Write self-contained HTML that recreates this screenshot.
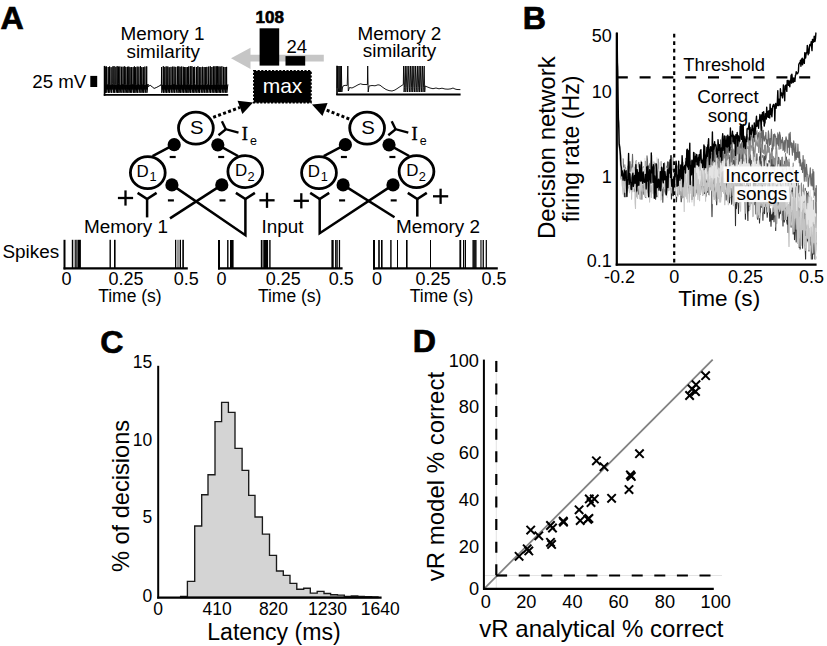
<!DOCTYPE html>
<html><head><meta charset="utf-8"><style>
html,body{margin:0;padding:0;background:#fff;}
svg{display:block;font-family:"Liberation Sans", sans-serif;}
</style></head><body>
<svg width="827" height="646" viewBox="0 0 827 646">
<rect width="827" height="646" fill="#fff"/>
<text x="0.6" y="28.6" font-size="32.2" text-anchor="start" font-weight="bold" fill="#000" stroke="#000" stroke-width="0.7">A</text>
<text x="522.7" y="28.6" font-size="32.2" text-anchor="start" font-weight="bold" fill="#000" stroke="#000" stroke-width="0.7">B</text>
<text x="100.2" y="353.3" font-size="32.2" text-anchor="start" font-weight="bold" fill="#000" stroke="#000" stroke-width="0.7">C</text>
<text x="412.7" y="351.7" font-size="32.2" text-anchor="start" font-weight="bold" fill="#000" stroke="#000" stroke-width="0.7">D</text>
<text x="162.6" y="39.6" font-size="18.9" text-anchor="middle" font-weight="normal" fill="#000" >Memory 1</text>
<text x="163.2" y="57.5" font-size="18.9" text-anchor="middle" font-weight="normal" fill="#000" >similarity</text>
<text x="399.4" y="39.5" font-size="18.9" text-anchor="middle" font-weight="normal" fill="#000" >Memory 2</text>
<text x="399.5" y="57.3" font-size="18.9" text-anchor="middle" font-weight="normal" fill="#000" >similarity</text>
<text x="32.3" y="87.5" font-size="18.7" text-anchor="start" font-weight="normal" fill="#000" >25 mV</text>
<rect x="90.3" y="75.9" width="6.9" height="11.1" fill="#000"/>
<rect x="105" y="84.8" width="42.6" height="4.8" fill="#111"/><rect x="161.4" y="84.8" width="66" height="4.8" fill="#111"/>
<polyline points="105.0,85.3 105.2,66.8 105.5,92.8 106.5,86.3 106.3,85.2 106.5,66.5 106.8,92.8 107.9,84.0 108.0,84.4 108.2,67.0 108.5,92.8 109.6,84.9 109.4,84.4 109.6,66.5 109.8,92.8 110.9,85.5 110.9,85.1 111.1,67.2 111.4,92.8 112.5,85.9 112.7,83.8 112.9,66.4 113.2,92.8 114.3,85.8 113.9,84.5 114.1,66.2 114.4,92.8 115.5,85.4 115.7,84.5 115.9,66.8 116.1,92.8 117.2,85.5 117.0,83.9 117.2,66.2 117.5,92.8 118.6,86.1 118.4,83.5 118.6,66.6 118.8,92.8 119.9,86.5 119.7,85.3 119.9,66.5 120.1,92.8 121.2,85.5 121.4,85.0 121.6,66.8 121.8,92.8 122.9,84.3 122.9,85.2 123.1,66.7 123.3,92.8 124.4,85.1 124.5,84.3 124.7,66.3 124.9,92.8 126.0,85.0 125.7,84.3 125.9,67.0 126.2,92.8 127.3,86.9 127.3,84.8 127.5,66.8 127.7,92.8 128.8,86.0 128.6,84.0 128.8,66.6 129.0,92.8 130.1,85.2 129.8,83.9 130.0,67.2 130.3,92.8 131.4,86.0 131.2,84.8 131.4,67.1 131.7,92.8 132.8,84.4 132.9,85.3 133.1,67.1 133.4,92.8 134.5,85.7 134.2,85.4 134.4,66.4 134.7,92.8 135.8,85.7 135.5,84.8 135.7,67.1 136.0,92.8 137.1,85.7 137.0,84.0 137.2,66.6 137.4,92.8 138.5,84.1 138.7,84.6 138.9,66.7 139.1,92.8 140.2,85.0 140.3,84.2 140.5,66.2 140.8,92.8 141.9,84.1 141.6,84.8 141.8,67.2 142.1,92.8 143.2,85.3 143.1,84.2 143.3,67.1 143.6,92.8 144.7,85.8 144.7,84.5 144.9,66.6 145.2,92.8 146.3,86.3 146.5,85.4 146.7,66.4 146.9,92.8 148.0,84.0 148.0,86.6 150.2,85.3 152.2,86.8 154.1,88.4 156.2,87.6 158.1,86.6 161.0,85.0 161.4,83.8 161.6,67.0 161.8,92.8 163.0,85.3 163.1,84.8 163.3,66.2 163.5,92.8 164.6,86.4 164.6,84.0 164.8,66.9 165.0,92.8 166.1,84.6 166.0,84.2 166.2,66.4 166.5,92.8 167.6,86.8 167.6,84.0 167.8,66.5 168.0,92.8 169.1,86.9 169.0,84.5 169.2,67.2 169.5,92.8 170.6,85.6 170.8,84.7 171.0,66.9 171.2,92.8 172.3,85.3 172.5,85.3 172.7,66.6 172.9,92.8 174.0,84.2 173.9,85.4 174.1,66.7 174.4,92.8 175.5,84.8 175.6,84.9 175.8,66.9 176.1,92.8 177.2,85.9 177.4,84.3 177.6,66.5 177.9,92.8 179.0,84.6 178.6,85.3 178.8,66.4 179.1,92.8 180.2,86.5 179.9,84.5 180.1,66.8 180.4,92.8 181.5,85.8 181.5,85.4 181.7,66.5 182.0,92.8 183.1,85.4 183.1,83.9 183.3,66.8 183.5,92.8 184.6,84.2 184.5,85.1 184.7,67.0 185.0,92.8 186.1,86.2 185.8,85.1 186.0,67.1 186.3,92.8 187.4,86.6 187.3,83.6 187.5,67.1 187.8,92.8 188.9,84.1 188.5,84.0 188.7,66.5 189.0,92.8 190.1,84.6 190.1,84.7 190.3,66.2 190.5,92.8 191.6,84.5 191.7,84.1 191.9,66.2 192.1,92.8 193.2,86.8 193.2,84.8 193.4,67.0 193.6,92.8 194.7,85.8 194.5,83.6 194.7,66.8 195.0,92.8 196.1,86.4 196.3,83.6 196.5,67.1 196.7,92.8 197.8,85.0 197.7,84.8 197.9,66.3 198.1,92.8 199.2,86.4 199.1,85.1 199.3,67.1 199.5,92.8 200.6,84.4 200.7,83.9 200.9,67.1 201.2,92.8 202.3,85.7 202.3,83.7 202.5,66.8 202.8,92.8 203.9,86.0 203.9,85.1 204.1,67.0 204.3,92.8 205.4,85.0 205.5,85.3 205.7,67.1 206.0,92.8 207.1,84.5 206.7,83.9 206.9,66.9 207.2,92.8 208.3,85.7 208.5,84.0 208.7,66.6 209.0,92.8 210.1,85.4 210.1,84.3 210.3,66.3 210.5,92.8 211.6,84.4 211.7,84.3 211.9,67.0 212.1,92.8 213.2,85.1 213.2,84.0 213.4,66.4 213.7,92.8 214.8,85.0 214.7,85.0 214.9,66.3 215.1,92.8 216.2,85.7 216.1,85.0 216.3,66.3 216.5,92.8 217.6,84.4 217.4,83.7 217.6,66.3 217.8,92.8 218.9,86.7 218.7,85.2 218.9,66.5 219.2,92.8 220.3,85.9 220.0,85.3 220.2,66.6 220.5,92.8 221.6,85.1 221.7,85.0 221.9,66.3 222.1,92.8 223.2,86.3 223.4,84.2 223.6,66.9 223.8,92.8 224.9,84.2 224.9,83.9 225.1,67.0 225.3,92.8 226.4,84.8 226.4,85.3 226.6,66.9 226.8,92.8 227.9,84.4" fill="none" stroke="#000" stroke-width="1.0" />
<line x1="104.60" y1="65.90" x2="104.60" y2="95.80" stroke="#000" stroke-width="1.7" />
<line x1="103.80" y1="94.90" x2="228.20" y2="94.90" stroke="#000" stroke-width="1.8" />
<polyline points="337.2,88.0 337.8,66.0 338.2,92.0 338.8,88.0 339.0,66.0 339.4,92.0 340.0,88.0 340.2,66.0 340.6,92.0 341.2,88.0 341.4,66.0 341.8,92.0 342.4,88.0 343.0,86.0 345.0,85.3 347.2,85.5 347.8,66.0 348.3,91.0 349.5,87.5 352.0,88.0 355.0,86.5 358.0,84.8 360.5,83.8 363.0,84.5 366.0,84.5 367.4,84.6 367.7,66.0 368.2,92.0 369.0,86.0 372.0,85.5 375.0,85.8 378.0,84.8 380.0,85.2 383.0,87.5 386.0,89.5 389.0,90.6 392.0,91.0 395.0,90.0 398.0,88.0 401.0,86.0 403.3,84.5 403.6,66.0 404.1,92.0 404.5,87.5 405.3,66.0 405.8,92.0 406.2,87.5 407.0,66.0 407.5,92.0 407.9,87.5 408.8,66.0 409.3,92.0 409.7,87.5 410.5,66.0 411.0,92.0 411.4,87.5 412.2,66.0 412.7,92.0 413.1,87.5 413.9,66.0 414.4,92.0 414.8,87.5 415.6,66.0 416.1,92.0 416.5,87.5 417.4,66.0 417.9,92.0 418.3,87.5 419.1,66.0 419.6,92.0 420.0,87.5 420.8,66.0 421.3,92.0 421.7,87.5 422.5,66.0 423.0,92.0 423.4,87.5 424.2,66.0 424.7,92.0 425.1,87.5 425.0,86.0 427.0,86.8 430.0,88.0 433.0,88.7 436.0,88.0 439.0,88.8 442.0,88.2 445.0,89.0 448.0,89.2 451.0,88.8 453.0,88.0 455.0,89.0 457.0,89.5 460.4,89.6" fill="none" stroke="#000" stroke-width="0.9" />
<line x1="337.00" y1="65.80" x2="337.00" y2="95.00" stroke="#000" stroke-width="1.6" />
<line x1="336.30" y1="94.50" x2="460.60" y2="94.50" stroke="#000" stroke-width="1.8" />
<path d="M231,58.2 L250.5,47.7 L250.5,54.8 L323.8,54.8 L323.8,61.6 L250.5,61.6 L250.5,69 Z" fill="#c6c6c6"/>
<rect x="259.6" y="28.3" width="19.6" height="37.3" fill="#000"/>
<rect x="285.5" y="56.1" width="19.7" height="9.5" fill="#000"/>
<text x="269.7" y="22.6" font-size="17" text-anchor="middle" font-weight="bold" fill="#000" stroke="#000" stroke-width="0.6">108</text>
<text x="296.8" y="52.5" font-size="18.5" text-anchor="middle" font-weight="normal" fill="#000" >24</text>
<rect x="254" y="71" width="56.8" height="31.6" fill="#000" stroke="#000" stroke-width="2" stroke-dasharray="2.2 1.4"/>
<text x="282.5" y="92.5" font-size="21" text-anchor="middle" font-weight="normal" fill="#fff" >max</text>
<line x1="213.20" y1="117.30" x2="239.96" y2="107.44" stroke="#000" stroke-width="3" stroke-dasharray="3 2.3"/>
<path d="M253.10,102.60 L242.38,114.01 L237.54,100.87 Z" fill="#000"/>
<line x1="174.20" y1="144.70" x2="152.50" y2="156.20" stroke="#000" stroke-width="2.5" />
<line x1="217.80" y1="144.80" x2="238.00" y2="156.00" stroke="#000" stroke-width="2.5" />
<polyline points="171.9,184.9 245.4,235.2 245.4,198.5" fill="none" stroke="#000" stroke-width="2.5" stroke-linejoin="miter" stroke-miterlimit="10"/>
<line x1="221.80" y1="184.90" x2="170.00" y2="218.40" stroke="#000" stroke-width="2.5" />
<line x1="147.10" y1="217.40" x2="147.10" y2="198.50" stroke="#000" stroke-width="2.5" />
<polyline points="137.6,192.8 147.1,199.0 156.6,192.8" fill="none" stroke="#000" stroke-width="2.6" stroke-linejoin="miter"/>
<polyline points="235.9,192.8 245.4,199.0 254.9,192.8" fill="none" stroke="#000" stroke-width="2.6" stroke-linejoin="miter"/>
<ellipse cx="195.90" cy="128.10" rx="17.4" ry="16.0" fill="#fff" stroke="#000" stroke-width="2.8"/>
<ellipse cx="147.80" cy="172.70" rx="17.4" ry="16.0" fill="#fff" stroke="#000" stroke-width="2.8"/>
<ellipse cx="245.30" cy="171.60" rx="17.4" ry="16.0" fill="#fff" stroke="#000" stroke-width="2.8"/>
<circle cx="174.20" cy="144.70" r="6.6" fill="#000"/>
<circle cx="217.80" cy="144.80" r="6.6" fill="#000"/>
<circle cx="171.90" cy="184.90" r="6.6" fill="#000"/>
<circle cx="221.80" cy="184.90" r="6.6" fill="#000"/>
<line x1="169.70" y1="157.00" x2="175.70" y2="157.00" stroke="#000" stroke-width="2.2" />
<line x1="218.20" y1="157.00" x2="224.20" y2="157.00" stroke="#000" stroke-width="2.2" />
<line x1="167.90" y1="200.40" x2="173.90" y2="200.40" stroke="#000" stroke-width="2.2" />
<line x1="219.50" y1="200.40" x2="225.50" y2="200.40" stroke="#000" stroke-width="2.2" />
<line x1="117.90" y1="198.00" x2="133.10" y2="198.00" stroke="#000" stroke-width="2.3" />
<line x1="125.50" y1="190.40" x2="125.50" y2="205.60" stroke="#000" stroke-width="2.3" />
<line x1="259.40" y1="200.30" x2="274.60" y2="200.30" stroke="#000" stroke-width="2.3" />
<line x1="267.00" y1="192.70" x2="267.00" y2="207.90" stroke="#000" stroke-width="2.3" />
<polyline points="218.5,135.2 225.8,129.2 238.5,132.6" fill="none" stroke="#000" stroke-width="2.4" />
<line x1="225.80" y1="129.20" x2="221.90" y2="121.30" stroke="#000" stroke-width="2.4" />
<text x="241.80" y="140.1" font-size="18.5" font-family="Liberation Serif, serif" stroke="#000" stroke-width="0.4">I</text>
<text x="250.00" y="144.5" font-size="12.5" text-anchor="start" font-weight="normal" fill="#000" >e</text>
<text x="196.80" y="134" font-size="17.5" text-anchor="middle" font-weight="normal" fill="#000" textLength="13.6" lengthAdjust="spacingAndGlyphs">S</text>
<text x="136.60" y="176.9" font-size="16.9" text-anchor="start" font-weight="normal" fill="#000" >D</text>
<text x="149.60" y="180.7" font-size="12.8" text-anchor="start" font-weight="normal" fill="#000" >1</text>
<text x="235.10" y="176.1" font-size="16.9" text-anchor="start" font-weight="normal" fill="#000" >D</text>
<text x="247.60" y="180.5" font-size="12.8" text-anchor="start" font-weight="normal" fill="#000" >2</text>
<line x1="349.20" y1="119.00" x2="325.03" y2="109.51" stroke="#000" stroke-width="3" stroke-dasharray="3 2.3"/>
<path d="M312.00,104.40 L327.59,103.00 L322.47,116.03 Z" fill="#000"/>
<line x1="345.40" y1="144.70" x2="323.70" y2="156.20" stroke="#000" stroke-width="2.5" />
<line x1="389.00" y1="144.80" x2="409.20" y2="156.00" stroke="#000" stroke-width="2.5" />
<polyline points="393.0,184.9 319.7,233.2 319.7,198.5" fill="none" stroke="#000" stroke-width="2.5" stroke-linejoin="miter" stroke-miterlimit="10"/>
<line x1="343.10" y1="184.90" x2="394.50" y2="217.30" stroke="#000" stroke-width="2.5" />
<line x1="417.30" y1="216.60" x2="417.30" y2="198.50" stroke="#000" stroke-width="2.5" />
<polyline points="310.2,192.8 319.7,199.0 329.2,192.8" fill="none" stroke="#000" stroke-width="2.6" stroke-linejoin="miter"/>
<polyline points="407.8,192.8 417.3,199.0 426.8,192.8" fill="none" stroke="#000" stroke-width="2.6" stroke-linejoin="miter"/>
<ellipse cx="367.10" cy="128.10" rx="17.4" ry="16.0" fill="#fff" stroke="#000" stroke-width="2.8"/>
<ellipse cx="319.00" cy="172.70" rx="17.4" ry="16.0" fill="#fff" stroke="#000" stroke-width="2.8"/>
<ellipse cx="416.50" cy="171.60" rx="17.4" ry="16.0" fill="#fff" stroke="#000" stroke-width="2.8"/>
<circle cx="345.40" cy="144.70" r="6.6" fill="#000"/>
<circle cx="389.00" cy="144.80" r="6.6" fill="#000"/>
<circle cx="343.10" cy="184.90" r="6.6" fill="#000"/>
<circle cx="393.00" cy="184.90" r="6.6" fill="#000"/>
<line x1="340.90" y1="157.00" x2="346.90" y2="157.00" stroke="#000" stroke-width="2.2" />
<line x1="389.40" y1="157.00" x2="395.40" y2="157.00" stroke="#000" stroke-width="2.2" />
<line x1="339.10" y1="200.40" x2="345.10" y2="200.40" stroke="#000" stroke-width="2.2" />
<line x1="390.70" y1="200.40" x2="396.70" y2="200.40" stroke="#000" stroke-width="2.2" />
<line x1="293.70" y1="200.80" x2="308.90" y2="200.80" stroke="#000" stroke-width="2.3" />
<line x1="301.30" y1="193.20" x2="301.30" y2="208.40" stroke="#000" stroke-width="2.3" />
<line x1="433.00" y1="196.30" x2="448.20" y2="196.30" stroke="#000" stroke-width="2.3" />
<line x1="440.60" y1="188.70" x2="440.60" y2="203.90" stroke="#000" stroke-width="2.3" />
<polyline points="388.3,135.2 395.6,129.2 408.3,132.6" fill="none" stroke="#000" stroke-width="2.4" />
<line x1="395.60" y1="129.20" x2="391.70" y2="121.30" stroke="#000" stroke-width="2.4" />
<text x="411.60" y="140.1" font-size="18.5" font-family="Liberation Serif, serif" stroke="#000" stroke-width="0.4">I</text>
<text x="419.80" y="144.5" font-size="12.5" text-anchor="start" font-weight="normal" fill="#000" >e</text>
<text x="368.00" y="134" font-size="17.5" text-anchor="middle" font-weight="normal" fill="#000" textLength="13.6" lengthAdjust="spacingAndGlyphs">S</text>
<text x="307.80" y="176.9" font-size="16.9" text-anchor="start" font-weight="normal" fill="#000" >D</text>
<text x="320.80" y="180.7" font-size="12.8" text-anchor="start" font-weight="normal" fill="#000" >1</text>
<text x="406.30" y="176.1" font-size="16.9" text-anchor="start" font-weight="normal" fill="#000" >D</text>
<text x="418.80" y="180.5" font-size="12.8" text-anchor="start" font-weight="normal" fill="#000" >2</text>
<text x="126" y="233.2" font-size="18.9" text-anchor="middle" font-weight="normal" fill="#000" >Memory 1</text>
<text x="282.5" y="233" font-size="18.9" text-anchor="middle" font-weight="normal" fill="#000" >Input</text>
<text x="438" y="233" font-size="18.9" text-anchor="middle" font-weight="normal" fill="#000" >Memory 2</text>
<text x="2.4" y="257.8" font-size="18.9" text-anchor="start" font-weight="normal" fill="#000" >Spikes</text>
<rect x="71.8" y="239.8" width="1.3" height="28.599999999999966" fill="#000"/>
<rect x="73.2" y="239.8" width="2.0" height="28.599999999999966" fill="#aaa"/>
<rect x="75.2" y="239.8" width="1.5" height="28.599999999999966" fill="#000"/>
<rect x="76.7" y="239.8" width="1.1" height="28.599999999999966" fill="#555"/>
<rect x="77.8" y="239.8" width="3.1" height="28.599999999999966" fill="#000"/>
<rect x="109.5" y="239.8" width="1.4" height="28.599999999999966" fill="#000"/>
<rect x="114.0" y="239.8" width="1.6" height="28.599999999999966" fill="#000"/>
<rect x="175" y="239.8" width="1.2" height="28.599999999999966" fill="#000"/>
<rect x="176.5" y="239.8" width="2.8" height="28.599999999999966" fill="#999"/>
<rect x="179.7" y="239.8" width="1.3" height="28.599999999999966" fill="#000"/>
<rect x="182.3" y="239.8" width="1.6" height="28.599999999999966" fill="#000"/>
<line x1="64.50" y1="239.80" x2="64.50" y2="269.40" stroke="#000" stroke-width="2" />
<line x1="63.50" y1="268.40" x2="187.80" y2="268.40" stroke="#000" stroke-width="2.2" />
<rect x="227.1" y="240" width="1.4" height="28.399999999999977" fill="#000"/>
<rect x="230" y="240" width="3.6" height="28.399999999999977" fill="#000"/>
<rect x="260.8" y="240" width="1.6" height="28.399999999999977" fill="#000"/>
<rect x="262.4" y="240" width="0.9" height="28.399999999999977" fill="#666"/>
<rect x="263.3" y="240" width="4.8" height="28.399999999999977" fill="#000"/>
<rect x="269.2" y="240" width="1.4" height="28.399999999999977" fill="#000"/>
<rect x="331.4" y="240" width="2.3" height="28.399999999999977" fill="#000"/>
<rect x="335.1" y="240" width="1.6" height="28.399999999999977" fill="#000"/>
<rect x="336.7" y="240" width="1.4" height="28.399999999999977" fill="#444"/>
<rect x="338.9" y="240" width="1.2" height="28.399999999999977" fill="#000"/>
<line x1="219.00" y1="240.00" x2="219.00" y2="269.40" stroke="#000" stroke-width="2" />
<line x1="218.00" y1="268.40" x2="342.60" y2="268.40" stroke="#000" stroke-width="2.2" />
<rect x="378.1" y="240" width="0.8" height="28.399999999999977" fill="#000"/>
<rect x="379.1" y="240" width="0.8" height="28.399999999999977" fill="#000"/>
<rect x="381.0" y="240" width="1.6" height="28.399999999999977" fill="#000"/>
<rect x="390.2" y="240" width="1.4" height="28.399999999999977" fill="#000"/>
<rect x="397.0" y="240" width="1.0" height="28.399999999999977" fill="#000"/>
<rect x="406.0" y="240" width="1.6" height="28.399999999999977" fill="#000"/>
<rect x="430.0" y="240" width="1.0" height="28.399999999999977" fill="#000"/>
<rect x="459.4" y="240" width="1.8" height="28.399999999999977" fill="#000"/>
<rect x="463" y="240" width="1.2" height="28.399999999999977" fill="#000"/>
<rect x="464.8" y="240" width="1.2" height="28.399999999999977" fill="#000"/>
<rect x="472.4" y="240" width="4.2" height="28.399999999999977" fill="#1a1a1a"/>
<rect x="480.2" y="240" width="1.5" height="28.399999999999977" fill="#444"/>
<rect x="482.6" y="240" width="1.3" height="28.399999999999977" fill="#000"/>
<rect x="485.7" y="240" width="1.2" height="28.399999999999977" fill="#000"/>
<line x1="374.00" y1="240.00" x2="374.00" y2="269.40" stroke="#000" stroke-width="2" />
<line x1="373.00" y1="268.40" x2="497.80" y2="268.40" stroke="#000" stroke-width="2.2" />
<text x="66.5" y="285" font-size="18" text-anchor="middle" font-weight="normal" fill="#000" >0</text>
<text x="126" y="285" font-size="18" text-anchor="middle" font-weight="normal" fill="#000" >0.25</text>
<text x="186.3" y="285" font-size="18" text-anchor="middle" font-weight="normal" fill="#000" >0.5</text>
<text x="129.9" y="302.4" font-size="17.5" text-anchor="middle" font-weight="normal" fill="#000" >Time (s)</text>
<text x="221.5" y="285" font-size="18" text-anchor="middle" font-weight="normal" fill="#000" >0</text>
<text x="283.3" y="285" font-size="18" text-anchor="middle" font-weight="normal" fill="#000" >0.25</text>
<text x="341.2" y="285" font-size="18" text-anchor="middle" font-weight="normal" fill="#000" >0.5</text>
<text x="289.7" y="302.4" font-size="17.5" text-anchor="middle" font-weight="normal" fill="#000" >Time (s)</text>
<text x="377" y="285" font-size="18" text-anchor="middle" font-weight="normal" fill="#000" >0</text>
<text x="432.9" y="285" font-size="18" text-anchor="middle" font-weight="normal" fill="#000" >0.25</text>
<text x="494.1" y="285" font-size="18" text-anchor="middle" font-weight="normal" fill="#000" >0.5</text>
<text x="441.5" y="302.4" font-size="17.5" text-anchor="middle" font-weight="normal" fill="#000" >Time (s)</text>
<g>
<polyline points="617.2,33.0 617.1,33.0 617.5,65.2 618.0,94.9 618.4,116.8 618.8,134.3 619.2,142.0 619.7,150.9 620.1,154.5 620.5,160.2 620.9,176.5 621.4,178.6 621.8,172.4 622.2,171.8 622.7,168.6 623.1,170.3 623.5,168.0 623.9,174.5 624.4,196.8 624.8,173.6 625.2,167.8 625.6,174.4 626.1,176.5 626.5,170.8 626.9,173.3 627.4,169.5 627.8,179.7 628.2,184.3 628.6,187.7 629.1,180.7 629.5,172.8 629.9,161.5 630.4,181.6 630.8,188.4 631.2,179.7 631.6,181.8 632.1,177.5 632.5,171.0 632.9,166.6 633.3,168.0 633.8,175.6 634.2,182.8 634.6,191.2 635.1,171.7 635.5,187.1 635.9,173.7 636.3,182.5 636.8,180.1 637.2,197.1 637.6,178.2 638.0,184.4 638.5,191.3 638.9,189.2 639.3,175.1 639.8,186.1 640.2,165.7 640.6,179.1 641.0,174.6 641.5,172.5 641.9,173.1 642.3,173.8 642.8,178.1 643.2,187.7 643.6,176.3 644.0,194.2 644.5,188.0 644.9,176.9 645.3,161.4 645.7,197.4 646.2,197.3 646.6,183.5 647.0,192.3 647.5,181.1 647.9,183.8 648.3,180.5 648.7,173.2 649.2,165.0 649.6,180.6 650.0,179.6 650.4,184.1 650.9,178.4 651.3,173.9 651.7,162.7 652.2,186.1 652.6,170.4 653.0,179.2 653.4,182.4 653.9,169.3 654.3,191.6 654.7,178.7 655.1,177.6 655.6,199.3 656.0,174.4 656.4,193.6 656.9,177.1 657.3,196.4 657.7,176.2 658.1,174.3 658.6,172.5 659.0,181.2 659.4,178.7 659.9,170.4 660.3,167.6 660.7,170.3 661.1,179.6 661.6,172.3 662.0,186.5 662.4,188.3 662.8,179.4 663.3,178.9 663.7,180.4 664.1,177.9 664.6,189.7 665.0,181.0 665.4,173.2 665.8,190.3 666.3,169.9 666.7,192.9 667.1,181.9 667.5,172.5 668.0,176.6 668.4,184.0 668.8,162.0 669.3,168.1 669.7,177.0 670.1,177.4 670.5,188.1 671.0,171.1 671.4,199.0 671.8,185.9 672.2,182.0 672.7,181.0 673.1,176.1 673.5,191.0 674.0,169.7 674.4,186.9 674.8,168.6 675.2,182.9 675.7,173.4 676.1,187.3 676.5,201.8 677.0,185.0 677.4,170.3 677.8,181.7 678.2,165.8 678.7,174.1 679.1,194.1 679.5,177.5 679.9,184.1 680.4,182.8 680.8,189.5 681.2,201.8 681.7,187.3 682.1,190.9 682.5,176.6 682.9,197.6 683.4,178.5 683.8,175.8 684.2,172.8 684.6,184.7 685.1,180.5 685.5,187.0 685.9,163.8 686.4,179.2 686.8,178.3 687.2,193.7 687.6,193.9 688.1,186.3 688.5,187.6 688.9,183.6 689.3,179.7 689.8,183.5 690.2,185.7 690.6,182.3 691.1,187.3 691.5,172.8 691.9,199.4 692.3,179.8 692.8,183.5 693.2,186.3 693.6,196.2 694.1,171.3 694.5,181.9 694.9,188.6 695.3,176.8 695.8,179.5 696.2,189.9 696.6,181.1 697.0,174.6 697.5,192.4 697.9,192.9 698.3,178.4 698.8,187.9 699.2,188.3 699.6,182.7 700.0,177.1 700.5,193.9 700.9,183.8 701.3,183.8 701.7,185.6 702.2,179.5 702.6,195.3 703.0,187.5 703.5,186.5 703.9,191.7 704.3,193.5 704.7,183.9 705.2,190.5 705.6,197.2 706.0,195.8 706.4,177.8 706.9,174.6 707.3,174.5 707.7,192.3 708.2,189.6 708.6,178.7 709.0,194.6 709.4,182.6 709.9,168.4 710.3,187.7 710.7,179.0 711.2,190.0 711.6,190.1 712.0,216.6 712.4,188.7 712.9,196.4 713.3,190.6 713.7,172.6 714.1,173.7 714.6,195.8 715.0,198.2 715.4,161.4 715.9,179.6 716.3,183.6 716.7,204.8 717.1,190.3 717.6,196.5 718.0,189.4 718.4,197.4 718.8,187.5 719.3,184.6 719.7,168.6 720.1,179.9 720.6,188.0 721.0,195.8 721.4,175.3 721.8,186.8 722.3,187.0 722.7,188.4 723.1,191.5 723.5,179.0 724.0,185.9 724.4,188.9 724.8,182.5 725.3,191.5 725.7,190.8 726.1,199.9 726.5,180.5 727.0,185.7 727.4,183.5 727.8,195.3 728.3,198.8 728.7,196.6 729.1,195.9 729.5,202.8 730.0,183.9 730.4,197.3 730.8,188.2 731.2,194.2 731.7,204.3 732.1,198.4 732.5,184.9 733.0,196.8 733.4,186.3 733.8,184.7 734.2,197.1 734.7,191.6 735.1,186.5 735.5,225.6 735.9,185.0 736.4,208.6 736.8,203.8 737.2,186.1 737.7,187.8 738.1,190.2 738.5,213.5 738.9,194.0 739.4,181.5 739.8,194.8 740.2,189.0 740.6,183.7 741.1,191.3 741.5,191.5 741.9,191.5 742.4,191.8 742.8,182.0 743.2,195.3 743.6,190.1 744.1,197.0 744.5,193.3 744.9,185.8 745.4,219.3 745.8,188.9 746.2,193.5 746.6,191.5 747.1,193.9 747.5,209.8 747.9,220.5 748.3,185.4 748.8,210.7 749.2,194.1 749.6,206.4 750.1,202.9 750.5,192.6 750.9,195.1 751.3,188.1 751.8,203.2 752.2,195.2 752.6,194.2 753.0,198.6 753.5,197.9 753.9,196.7 754.3,204.8 754.8,200.9 755.2,195.4 755.6,197.4 756.0,214.0 756.5,212.5 756.9,196.1 757.3,203.7 757.7,219.2 758.2,205.6 758.6,208.3 759.0,204.3 759.5,222.9 759.9,213.6 760.3,211.8 760.7,204.8 761.2,202.1 761.6,192.9 762.0,207.5 762.5,180.9 762.9,220.3 763.3,204.4 763.7,196.2 764.2,212.3 764.6,213.6 765.0,187.3 765.4,206.0 765.9,206.1 766.3,200.4 766.7,205.4 767.2,217.3 767.6,210.7 768.0,208.4 768.4,197.1 768.9,207.8 769.3,201.8 769.7,221.3 770.1,208.5 770.6,212.3 771.0,226.3 771.4,215.1 771.9,219.4 772.3,214.0 772.7,219.6 773.1,208.3 773.6,206.8 774.0,221.8 774.4,212.9 774.8,203.2 775.3,201.9 775.7,230.4 776.1,204.1 776.6,223.6 777.0,193.5 777.4,195.1 777.8,205.8 778.3,201.4 778.7,208.5 779.1,218.2 779.6,212.7 780.0,212.7 780.4,211.7 780.8,213.7 781.3,200.0 781.7,215.0 782.1,214.8 782.5,206.0 783.0,225.9 783.4,196.8 783.8,203.9 784.3,222.0 784.7,211.9 785.1,201.3 785.5,202.6 786.0,219.6 786.4,210.4 786.8,221.0 787.2,224.3 787.7,209.0 788.1,232.6 788.5,213.3 789.0,214.1 789.4,214.1 789.8,207.5 790.2,208.0 790.7,192.3 791.1,227.1 791.5,209.5 791.9,222.7 792.4,214.1 792.8,216.8 793.2,234.0 793.7,209.9 794.1,205.0 794.5,239.6 794.9,212.0 795.4,227.4 795.8,230.6 796.2,242.0 796.7,207.3 797.1,219.6 797.5,219.4 797.9,208.6 798.4,220.9 798.8,204.7 799.2,247.4 799.6,233.2 800.1,249.0 800.5,242.7 800.9,210.6 801.4,213.9 801.8,222.0 802.2,238.9 802.6,248.2 803.1,209.3 803.5,217.1 803.9,233.7 804.3,222.2 804.8,241.5 805.2,246.5 805.6,259.0 806.1,220.4 806.5,230.5 806.9,236.9 807.3,240.7 807.8,237.1 808.2,241.9 808.6,220.0 809.0,250.9 809.5,227.1 809.9,223.1 810.3,234.1 810.8,255.4 811.2,239.5 811.6,259.0 812.0,259.0 812.5,259.0 812.9,215.1 813.3,251.7 813.8,254.1 814.2,242.4 814.6,244.6 815.0,259.0 815.5,253.6 815.9,242.4 816.3,244.4" fill="none" stroke="#2e2e2e" stroke-width="1.1" stroke-linejoin="round"/>
<polyline points="617.2,33.0 617.1,33.0 617.5,65.6 618.0,95.5 618.4,117.8 618.8,131.9 619.2,140.4 619.7,155.1 620.1,150.0 620.5,151.3 620.9,170.3 621.4,164.2 621.8,175.7 622.2,173.1 622.7,172.6 623.1,180.5 623.5,171.5 623.9,185.5 624.4,172.2 624.8,173.4 625.2,174.8 625.6,175.3 626.1,179.7 626.5,185.8 626.9,188.9 627.4,176.5 627.8,179.4 628.2,166.0 628.6,167.9 629.1,183.4 629.5,176.3 629.9,183.3 630.4,183.1 630.8,171.9 631.2,177.7 631.6,177.4 632.1,181.5 632.5,172.0 632.9,178.4 633.3,172.9 633.8,179.5 634.2,175.6 634.6,167.2 635.1,171.6 635.5,171.3 635.9,173.2 636.3,192.1 636.8,180.2 637.2,170.1 637.6,189.6 638.0,179.5 638.5,194.1 638.9,178.4 639.3,186.5 639.8,189.3 640.2,170.7 640.6,174.0 641.0,170.2 641.5,178.9 641.9,167.2 642.3,186.0 642.8,177.8 643.2,184.7 643.6,166.7 644.0,171.7 644.5,195.0 644.9,183.2 645.3,185.7 645.7,188.3 646.2,195.5 646.6,166.7 647.0,174.6 647.5,181.3 647.9,175.5 648.3,182.6 648.7,186.0 649.2,172.9 649.6,180.5 650.0,168.5 650.4,165.4 650.9,182.2 651.3,173.0 651.7,178.1 652.2,170.4 652.6,183.3 653.0,180.3 653.4,176.7 653.9,173.8 654.3,173.8 654.7,179.5 655.1,181.3 655.6,177.0 656.0,170.8 656.4,178.1 656.9,169.0 657.3,186.5 657.7,180.7 658.1,171.0 658.6,178.2 659.0,172.2 659.4,182.6 659.9,181.9 660.3,183.2 660.7,169.6 661.1,186.2 661.6,176.5 662.0,195.6 662.4,176.1 662.8,202.2 663.3,182.1 663.7,179.9 664.1,172.7 664.6,181.9 665.0,177.5 665.4,178.4 665.8,192.6 666.3,173.8 666.7,166.2 667.1,179.8 667.5,161.9 668.0,184.9 668.4,189.2 668.8,175.5 669.3,175.2 669.7,183.7 670.1,179.5 670.5,184.3 671.0,178.4 671.4,169.3 671.8,186.8 672.2,179.3 672.7,169.7 673.1,180.9 673.5,167.5 674.0,185.8 674.4,184.0 674.8,173.4 675.2,182.1 675.7,169.0 676.1,179.4 676.5,176.4 677.0,185.0 677.4,195.0 677.8,167.8 678.2,181.4 678.7,177.2 679.1,166.8 679.5,165.2 679.9,181.6 680.4,175.7 680.8,171.5 681.2,165.1 681.7,173.0 682.1,175.9 682.5,169.8 682.9,174.6 683.4,176.9 683.8,168.0 684.2,176.7 684.6,182.4 685.1,183.2 685.5,183.1 685.9,177.2 686.4,166.2 686.8,167.1 687.2,161.4 687.6,171.1 688.1,171.1 688.5,168.1 688.9,172.6 689.3,167.2 689.8,168.7 690.2,170.5 690.6,176.6 691.1,162.0 691.5,175.6 691.9,175.3 692.3,175.8 692.8,179.8 693.2,166.1 693.6,158.6 694.1,155.4 694.5,169.7 694.9,168.4 695.3,174.2 695.8,161.9 696.2,167.8 696.6,192.7 697.0,168.7 697.5,180.0 697.9,158.0 698.3,166.1 698.8,165.1 699.2,164.8 699.6,168.2 700.0,172.7 700.5,174.4 700.9,159.5 701.3,164.2 701.7,179.0 702.2,172.5 702.6,179.3 703.0,158.7 703.5,169.7 703.9,167.1 704.3,156.9 704.7,189.5 705.2,164.9 705.6,168.2 706.0,155.0 706.4,155.8 706.9,161.7 707.3,177.2 707.7,166.5 708.2,167.3 708.6,185.4 709.0,178.0 709.4,182.9 709.9,163.4 710.3,168.4 710.7,176.6 711.2,177.4 711.6,185.5 712.0,160.6 712.4,158.8 712.9,174.8 713.3,163.1 713.7,176.3 714.1,156.6 714.6,168.3 715.0,166.4 715.4,160.2 715.9,165.7 716.3,172.4 716.7,162.5 717.1,161.8 717.6,157.2 718.0,161.9 718.4,185.7 718.8,155.5 719.3,163.1 719.7,164.1 720.1,172.9 720.6,155.8 721.0,169.6 721.4,157.3 721.8,166.0 722.3,158.4 722.7,165.4 723.1,156.9 723.5,163.1 724.0,164.7 724.4,159.7 724.8,164.5 725.3,165.3 725.7,154.8 726.1,171.8 726.5,165.7 727.0,161.3 727.4,164.0 727.8,176.0 728.3,158.7 728.7,172.6 729.1,155.4 729.5,181.8 730.0,157.2 730.4,170.6 730.8,166.6 731.2,149.4 731.7,154.7 732.1,169.4 732.5,154.4 733.0,161.9 733.4,164.3 733.8,160.6 734.2,164.2 734.7,174.8 735.1,151.4 735.5,156.6 735.9,156.6 736.4,159.1 736.8,141.3 737.2,168.4 737.7,150.1 738.1,157.3 738.5,164.1 738.9,152.3 739.4,146.9 739.8,162.0 740.2,175.6 740.6,162.3 741.1,152.0 741.5,172.6 741.9,167.2 742.4,162.2 742.8,146.5 743.2,154.0 743.6,158.3 744.1,158.5 744.5,161.3 744.9,163.0 745.4,160.3 745.8,151.8 746.2,168.7 746.6,170.7 747.1,148.3 747.5,168.6 747.9,155.5 748.3,159.0 748.8,169.9 749.2,156.5 749.6,161.4 750.1,164.5 750.5,154.9 750.9,167.6 751.3,164.5 751.8,160.6 752.2,166.4 752.6,161.2 753.0,161.3 753.5,147.1 753.9,150.0 754.3,151.8 754.8,157.7 755.2,162.5 755.6,166.7 756.0,170.2 756.5,166.0 756.9,153.8 757.3,169.0 757.7,165.7 758.2,168.4 758.6,167.4 759.0,179.0 759.5,156.7 759.9,163.9 760.3,156.4 760.7,144.2 761.2,170.5 761.6,173.6 762.0,161.8 762.5,161.3 762.9,155.2 763.3,158.5 763.7,171.0 764.2,167.7 764.6,156.3 765.0,158.8 765.4,154.5 765.9,162.4 766.3,164.4 766.7,179.4 767.2,163.5 767.6,174.2 768.0,164.6 768.4,172.5 768.9,160.5 769.3,163.2 769.7,168.9 770.1,154.1 770.6,169.7 771.0,164.8 771.4,165.6 771.9,148.4 772.3,175.4 772.7,168.7 773.1,158.2 773.6,168.9 774.0,163.9 774.4,172.1 774.8,169.3 775.3,162.9 775.7,172.3 776.1,174.4 776.6,176.2 777.0,166.4 777.4,175.6 777.8,161.0 778.3,177.6 778.7,157.2 779.1,169.4 779.6,164.8 780.0,171.2 780.4,167.6 780.8,160.3 781.3,172.4 781.7,163.1 782.1,169.3 782.5,175.7 783.0,168.1 783.4,172.2 783.8,182.1 784.3,175.5 784.7,161.2 785.1,167.2 785.5,174.7 786.0,183.9 786.4,157.0 786.8,171.5 787.2,168.0 787.7,165.3 788.1,177.5 788.5,180.0 789.0,162.6 789.4,187.5 789.8,173.0 790.2,181.6 790.7,168.0 791.1,179.9 791.5,172.1 791.9,196.6 792.4,192.5 792.8,172.3 793.2,180.7 793.7,174.5 794.1,192.4 794.5,180.9 794.9,203.5 795.4,171.2 795.8,188.8 796.2,177.7 796.7,184.8 797.1,187.2 797.5,189.0 797.9,181.9 798.4,189.8 798.8,203.3 799.2,185.9 799.6,193.7 800.1,202.9 800.5,196.0 800.9,194.7 801.4,184.9 801.8,191.9 802.2,205.7 802.6,197.3 803.1,217.9 803.5,198.6 803.9,208.7 804.3,202.9 804.8,224.4 805.2,188.4 805.6,211.8 806.1,218.5 806.5,191.2 806.9,194.0 807.3,193.6 807.8,193.4 808.2,208.9 808.6,213.8 809.0,196.1 809.5,202.6 809.9,208.6 810.3,227.5 810.8,234.3 811.2,216.5 811.6,226.5 812.0,204.3 812.5,230.3 812.9,206.3 813.3,208.4 813.8,222.6 814.2,218.5 814.6,206.0 815.0,202.9 815.5,231.2 815.9,188.2 816.3,232.9" fill="none" stroke="#474747" stroke-width="1.1" stroke-linejoin="round"/>
<polyline points="617.2,33.0 617.1,33.0 617.5,65.3 618.0,96.3 618.4,117.1 618.8,132.5 619.2,141.2 619.7,145.9 620.1,147.9 620.5,161.8 620.9,163.4 621.4,165.9 621.8,162.3 622.2,174.9 622.7,173.5 623.1,158.9 623.5,169.4 623.9,176.0 624.4,173.2 624.8,174.2 625.2,171.6 625.6,196.7 626.1,174.0 626.5,182.1 626.9,183.4 627.4,182.5 627.8,166.6 628.2,183.0 628.6,173.9 629.1,182.9 629.5,176.5 629.9,188.2 630.4,173.0 630.8,174.8 631.2,182.2 631.6,166.5 632.1,166.0 632.5,154.2 632.9,163.2 633.3,176.5 633.8,180.9 634.2,174.7 634.6,170.4 635.1,185.3 635.5,175.0 635.9,169.9 636.3,178.9 636.8,173.0 637.2,180.0 637.6,177.7 638.0,178.6 638.5,162.8 638.9,172.1 639.3,173.9 639.8,170.1 640.2,181.2 640.6,176.4 641.0,177.4 641.5,172.2 641.9,199.3 642.3,177.8 642.8,171.4 643.2,172.5 643.6,173.9 644.0,167.2 644.5,187.5 644.9,175.0 645.3,187.1 645.7,181.6 646.2,181.0 646.6,175.9 647.0,155.9 647.5,159.9 647.9,181.3 648.3,168.9 648.7,186.9 649.2,178.8 649.6,176.6 650.0,163.3 650.4,191.6 650.9,174.8 651.3,191.5 651.7,179.6 652.2,171.9 652.6,178.6 653.0,167.9 653.4,178.2 653.9,183.0 654.3,185.5 654.7,163.2 655.1,163.2 655.6,165.8 656.0,164.2 656.4,175.2 656.9,181.5 657.3,166.0 657.7,194.7 658.1,159.1 658.6,173.8 659.0,177.9 659.4,168.6 659.9,177.1 660.3,169.7 660.7,178.6 661.1,188.0 661.6,189.5 662.0,177.3 662.4,177.1 662.8,171.4 663.3,179.4 663.7,181.2 664.1,178.1 664.6,162.9 665.0,181.1 665.4,193.9 665.8,173.1 666.3,175.0 666.7,178.5 667.1,174.3 667.5,173.3 668.0,180.7 668.4,174.6 668.8,167.0 669.3,180.0 669.7,172.5 670.1,173.0 670.5,173.8 671.0,172.9 671.4,177.0 671.8,180.0 672.2,171.3 672.7,182.7 673.1,175.9 673.5,178.6 674.0,179.8 674.4,176.2 674.8,178.0 675.2,184.6 675.7,170.3 676.1,195.7 676.5,179.7 677.0,185.8 677.4,173.7 677.8,176.2 678.2,167.8 678.7,175.4 679.1,187.0 679.5,173.2 679.9,184.2 680.4,173.8 680.8,171.9 681.2,164.3 681.7,165.9 682.1,161.8 682.5,163.0 682.9,170.2 683.4,176.7 683.8,169.3 684.2,191.7 684.6,176.4 685.1,186.2 685.5,158.4 685.9,172.0 686.4,183.9 686.8,176.6 687.2,174.1 687.6,161.1 688.1,177.8 688.5,155.0 688.9,176.6 689.3,168.0 689.8,180.3 690.2,177.3 690.6,161.1 691.1,163.1 691.5,166.2 691.9,162.5 692.3,172.7 692.8,162.3 693.2,159.3 693.6,166.7 694.1,163.9 694.5,152.7 694.9,173.2 695.3,153.5 695.8,171.6 696.2,167.1 696.6,166.6 697.0,164.2 697.5,159.8 697.9,155.1 698.3,163.3 698.8,156.8 699.2,162.5 699.6,159.8 700.0,174.6 700.5,178.5 700.9,171.8 701.3,167.4 701.7,160.1 702.2,173.6 702.6,165.4 703.0,163.4 703.5,163.7 703.9,150.7 704.3,153.6 704.7,167.7 705.2,166.8 705.6,172.0 706.0,157.2 706.4,171.3 706.9,158.5 707.3,167.6 707.7,163.3 708.2,151.8 708.6,159.7 709.0,148.0 709.4,147.7 709.9,147.9 710.3,164.3 710.7,157.1 711.2,151.9 711.6,160.3 712.0,153.7 712.4,160.1 712.9,159.6 713.3,159.2 713.7,149.4 714.1,153.6 714.6,158.2 715.0,146.8 715.4,150.1 715.9,151.1 716.3,167.8 716.7,158.1 717.1,150.6 717.6,158.6 718.0,151.0 718.4,149.4 718.8,145.5 719.3,154.6 719.7,161.9 720.1,151.9 720.6,139.7 721.0,150.8 721.4,154.8 721.8,149.7 722.3,150.4 722.7,145.2 723.1,160.2 723.5,156.7 724.0,158.0 724.4,146.9 724.8,144.4 725.3,165.5 725.7,156.4 726.1,158.4 726.5,147.4 727.0,160.1 727.4,146.5 727.8,163.4 728.3,145.0 728.7,146.0 729.1,151.8 729.5,152.8 730.0,147.3 730.4,147.6 730.8,149.6 731.2,146.8 731.7,142.3 732.1,140.2 732.5,154.3 733.0,156.2 733.4,151.4 733.8,157.5 734.2,151.1 734.7,152.5 735.1,152.5 735.5,146.0 735.9,142.3 736.4,135.1 736.8,139.1 737.2,141.1 737.7,147.5 738.1,150.9 738.5,142.8 738.9,137.3 739.4,142.0 739.8,143.3 740.2,144.7 740.6,148.4 741.1,146.6 741.5,142.8 741.9,149.9 742.4,138.9 742.8,135.4 743.2,129.6 743.6,152.1 744.1,150.8 744.5,142.8 744.9,140.9 745.4,145.5 745.8,146.4 746.2,150.1 746.6,147.9 747.1,134.5 747.5,139.3 747.9,137.0 748.3,138.2 748.8,141.8 749.2,145.3 749.6,136.4 750.1,141.4 750.5,144.6 750.9,136.0 751.3,134.1 751.8,136.1 752.2,137.2 752.6,145.6 753.0,140.0 753.5,142.9 753.9,135.0 754.3,133.8 754.8,141.7 755.2,131.6 755.6,134.5 756.0,133.8 756.5,133.6 756.9,130.5 757.3,139.3 757.7,138.4 758.2,135.4 758.6,132.6 759.0,137.8 759.5,133.4 759.9,144.2 760.3,133.6 760.7,146.5 761.2,130.9 761.6,137.5 762.0,126.9 762.5,149.8 762.9,130.8 763.3,130.4 763.7,137.8 764.2,141.1 764.6,140.0 765.0,136.1 765.4,138.9 765.9,132.4 766.3,143.7 766.7,139.4 767.2,141.8 767.6,148.0 768.0,139.1 768.4,130.9 768.9,134.9 769.3,145.7 769.7,142.0 770.1,138.6 770.6,144.5 771.0,136.2 771.4,129.2 771.9,136.5 772.3,150.9 772.7,146.4 773.1,149.1 773.6,134.5 774.0,146.0 774.4,134.1 774.8,134.1 775.3,136.9 775.7,136.2 776.1,149.1 776.6,138.4 777.0,139.2 777.4,144.0 777.8,132.7 778.3,145.6 778.7,134.8 779.1,149.2 779.6,132.0 780.0,134.3 780.4,135.8 780.8,148.7 781.3,140.0 781.7,142.6 782.1,141.0 782.5,137.4 783.0,150.4 783.4,149.8 783.8,142.8 784.3,140.6 784.7,152.0 785.1,150.9 785.5,141.4 786.0,136.7 786.4,138.3 786.8,139.8 787.2,152.9 787.7,140.4 788.1,141.5 788.5,147.2 789.0,133.9 789.4,154.8 789.8,136.0 790.2,132.3 790.7,144.7 791.1,147.5 791.5,142.8 791.9,148.7 792.4,155.3 792.8,143.2 793.2,152.3 793.7,140.9 794.1,144.4 794.5,150.7 794.9,160.6 795.4,150.3 795.8,143.5 796.2,159.4 796.7,152.6 797.1,157.5 797.5,156.0 797.9,144.1 798.4,157.6 798.8,152.4 799.2,162.7 799.6,151.8 800.1,169.1 800.5,159.9 800.9,165.7 801.4,169.7 801.8,166.8 802.2,162.9 802.6,172.4 803.1,155.5 803.5,163.8 803.9,169.1 804.3,181.3 804.8,159.7 805.2,176.5 805.6,167.9 806.1,181.2 806.5,164.2 806.9,170.0 807.3,174.2 807.8,174.7 808.2,186.7 808.6,185.0 809.0,178.7 809.5,175.9 809.9,174.0 810.3,167.9 810.8,183.4 811.2,185.9 811.6,180.9 812.0,173.7 812.5,186.0 812.9,169.2 813.3,189.7 813.8,171.7 814.2,197.4 814.6,192.6 815.0,193.8 815.5,194.7 815.9,201.6 816.3,185.3" fill="none" stroke="#686868" stroke-width="1.1" stroke-linejoin="round"/>
<polyline points="617.2,33.0 617.1,33.0 617.5,65.2 618.0,95.3 618.4,118.5 618.8,132.5 619.2,140.0 619.7,148.9 620.1,154.4 620.5,158.3 620.9,161.4 621.4,177.4 621.8,168.9 622.2,162.6 622.7,172.9 623.1,177.7 623.5,169.7 623.9,176.4 624.4,173.5 624.8,164.9 625.2,172.7 625.6,190.7 626.1,178.7 626.5,182.9 626.9,174.6 627.4,169.9 627.8,169.3 628.2,188.1 628.6,168.7 629.1,168.9 629.5,179.3 629.9,176.8 630.4,168.3 630.8,184.3 631.2,164.6 631.6,190.4 632.1,178.7 632.5,178.4 632.9,170.9 633.3,177.8 633.8,174.9 634.2,183.0 634.6,183.6 635.1,170.9 635.5,164.7 635.9,161.2 636.3,160.6 636.8,180.1 637.2,188.4 637.6,172.7 638.0,175.5 638.5,176.1 638.9,162.2 639.3,169.1 639.8,180.9 640.2,199.1 640.6,168.7 641.0,161.0 641.5,170.5 641.9,184.5 642.3,172.9 642.8,179.5 643.2,171.4 643.6,179.6 644.0,171.4 644.5,178.9 644.9,187.0 645.3,172.2 645.7,183.1 646.2,167.7 646.6,173.1 647.0,190.3 647.5,174.0 647.9,185.9 648.3,182.0 648.7,173.8 649.2,167.7 649.6,165.3 650.0,173.6 650.4,191.7 650.9,171.4 651.3,191.5 651.7,169.5 652.2,179.2 652.6,187.8 653.0,181.2 653.4,180.0 653.9,185.0 654.3,188.0 654.7,184.2 655.1,185.8 655.6,171.5 656.0,174.6 656.4,180.0 656.9,173.9 657.3,165.4 657.7,182.4 658.1,177.0 658.6,183.0 659.0,169.2 659.4,187.8 659.9,174.3 660.3,177.5 660.7,192.7 661.1,161.6 661.6,184.6 662.0,168.4 662.4,174.4 662.8,175.8 663.3,190.7 663.7,175.1 664.1,192.0 664.6,180.7 665.0,189.3 665.4,186.0 665.8,184.4 666.3,168.8 666.7,166.3 667.1,173.3 667.5,174.2 668.0,185.8 668.4,169.8 668.8,170.4 669.3,178.4 669.7,169.2 670.1,181.3 670.5,167.3 671.0,183.8 671.4,176.3 671.8,169.6 672.2,190.8 672.7,180.5 673.1,157.4 673.5,175.2 674.0,171.8 674.4,179.5 674.8,180.8 675.2,178.4 675.7,176.6 676.1,193.2 676.5,175.1 677.0,181.7 677.4,193.3 677.8,176.7 678.2,189.7 678.7,167.8 679.1,178.5 679.5,189.2 679.9,179.7 680.4,166.2 680.8,170.1 681.2,165.9 681.7,172.6 682.1,185.2 682.5,172.4 682.9,170.1 683.4,166.3 683.8,170.9 684.2,181.6 684.6,175.1 685.1,179.7 685.5,184.2 685.9,178.3 686.4,158.8 686.8,171.2 687.2,170.4 687.6,170.5 688.1,174.1 688.5,179.6 688.9,178.5 689.3,166.5 689.8,188.1 690.2,173.3 690.6,171.8 691.1,161.9 691.5,168.8 691.9,161.2 692.3,180.8 692.8,186.6 693.2,169.8 693.6,167.7 694.1,161.2 694.5,176.4 694.9,161.8 695.3,168.2 695.8,183.3 696.2,182.5 696.6,177.4 697.0,162.9 697.5,175.1 697.9,163.4 698.3,175.0 698.8,169.6 699.2,168.3 699.6,163.3 700.0,166.8 700.5,164.2 700.9,168.4 701.3,166.3 701.7,158.5 702.2,173.4 702.6,167.1 703.0,171.2 703.5,151.4 703.9,164.1 704.3,165.1 704.7,162.3 705.2,158.5 705.6,164.1 706.0,155.3 706.4,158.4 706.9,165.2 707.3,157.9 707.7,160.3 708.2,175.4 708.6,153.3 709.0,171.6 709.4,158.2 709.9,167.4 710.3,170.5 710.7,169.6 711.2,155.1 711.6,166.3 712.0,163.1 712.4,166.2 712.9,162.0 713.3,165.7 713.7,163.8 714.1,171.0 714.6,172.0 715.0,164.5 715.4,169.6 715.9,152.1 716.3,165.4 716.7,160.4 717.1,154.9 717.6,159.3 718.0,161.6 718.4,159.3 718.8,178.5 719.3,161.6 719.7,174.5 720.1,165.0 720.6,156.8 721.0,155.8 721.4,150.4 721.8,152.0 722.3,172.9 722.7,158.2 723.1,161.5 723.5,170.7 724.0,157.4 724.4,156.7 724.8,150.9 725.3,161.9 725.7,162.9 726.1,160.3 726.5,156.3 727.0,164.6 727.4,153.2 727.8,161.5 728.3,154.0 728.7,154.2 729.1,167.7 729.5,164.6 730.0,165.0 730.4,165.0 730.8,150.2 731.2,161.8 731.7,172.8 732.1,163.9 732.5,163.9 733.0,156.1 733.4,151.4 733.8,149.1 734.2,152.6 734.7,153.2 735.1,159.2 735.5,167.6 735.9,148.1 736.4,158.3 736.8,158.4 737.2,154.7 737.7,145.3 738.1,161.9 738.5,154.7 738.9,142.7 739.4,149.7 739.8,153.4 740.2,148.0 740.6,161.1 741.1,150.1 741.5,150.2 741.9,154.1 742.4,141.8 742.8,151.5 743.2,152.4 743.6,165.2 744.1,149.1 744.5,153.2 744.9,151.4 745.4,144.9 745.8,157.5 746.2,139.7 746.6,149.0 747.1,154.2 747.5,151.1 747.9,146.4 748.3,159.3 748.8,156.7 749.2,142.4 749.6,139.6 750.1,158.1 750.5,141.6 750.9,146.8 751.3,145.6 751.8,148.1 752.2,150.8 752.6,144.9 753.0,141.9 753.5,139.3 753.9,150.0 754.3,159.8 754.8,154.5 755.2,151.5 755.6,143.4 756.0,139.9 756.5,143.4 756.9,145.4 757.3,146.2 757.7,142.2 758.2,137.2 758.6,152.5 759.0,152.4 759.5,145.8 759.9,131.4 760.3,147.0 760.7,142.9 761.2,151.3 761.6,152.0 762.0,144.6 762.5,152.4 762.9,151.5 763.3,150.0 763.7,153.6 764.2,151.5 764.6,145.2 765.0,154.8 765.4,144.8 765.9,147.1 766.3,158.1 766.7,155.0 767.2,152.3 767.6,147.9 768.0,152.3 768.4,146.4 768.9,152.1 769.3,147.6 769.7,152.7 770.1,158.5 770.6,165.0 771.0,154.5 771.4,152.1 771.9,158.7 772.3,158.4 772.7,156.0 773.1,164.3 773.6,156.7 774.0,159.7 774.4,164.7 774.8,158.3 775.3,173.0 775.7,155.7 776.1,148.2 776.6,147.2 777.0,154.0 777.4,167.8 777.8,164.9 778.3,170.9 778.7,172.1 779.1,158.7 779.6,168.3 780.0,166.0 780.4,171.5 780.8,177.4 781.3,170.8 781.7,157.3 782.1,168.7 782.5,157.1 783.0,167.1 783.4,165.3 783.8,167.0 784.3,164.2 784.7,169.6 785.1,170.0 785.5,153.4 786.0,168.2 786.4,167.6 786.8,165.8 787.2,159.8 787.7,162.2 788.1,183.1 788.5,170.1 789.0,159.0 789.4,170.5 789.8,169.8 790.2,167.3 790.7,177.7 791.1,173.3 791.5,169.9 791.9,189.6 792.4,166.6 792.8,178.8 793.2,163.0 793.7,174.7 794.1,172.1 794.5,188.8 794.9,180.2 795.4,197.3 795.8,192.5 796.2,186.8 796.7,193.8 797.1,199.9 797.5,189.3 797.9,198.8 798.4,198.5 798.8,193.5 799.2,205.3 799.6,212.0 800.1,196.7 800.5,204.1 800.9,199.0 801.4,183.1 801.8,199.2 802.2,193.3 802.6,203.2 803.1,196.5 803.5,184.7 803.9,218.0 804.3,202.0 804.8,199.8 805.2,193.7 805.6,202.2 806.1,210.2 806.5,206.7 806.9,211.1 807.3,221.1 807.8,214.7 808.2,213.6 808.6,191.8 809.0,221.2 809.5,235.6 809.9,230.0 810.3,205.0 810.8,211.2 811.2,241.3 811.6,226.7 812.0,222.6 812.5,207.6 812.9,218.0 813.3,200.3 813.8,220.3 814.2,232.4 814.6,230.1 815.0,222.3 815.5,215.1 815.9,226.7 816.3,240.6" fill="none" stroke="#8c8c8c" stroke-width="1.1" stroke-linejoin="round"/>
<polyline points="617.2,33.0 617.1,33.0 617.5,65.7 618.0,96.0 618.4,117.6 618.8,130.9 619.2,137.4 619.7,150.0 620.1,158.0 620.5,165.2 620.9,179.2 621.4,160.9 621.8,174.6 622.2,172.2 622.7,172.4 623.1,173.2 623.5,172.5 623.9,187.4 624.4,188.0 624.8,180.0 625.2,189.7 625.6,182.7 626.1,173.4 626.5,177.7 626.9,177.1 627.4,174.8 627.8,190.9 628.2,177.6 628.6,185.9 629.1,177.0 629.5,189.8 629.9,191.0 630.4,173.3 630.8,182.6 631.2,184.1 631.6,184.6 632.1,170.0 632.5,181.2 632.9,191.8 633.3,173.5 633.8,173.8 634.2,171.3 634.6,183.9 635.1,183.6 635.5,192.4 635.9,169.7 636.3,182.5 636.8,185.9 637.2,176.3 637.6,181.0 638.0,182.2 638.5,176.6 638.9,179.3 639.3,169.6 639.8,169.0 640.2,182.6 640.6,173.9 641.0,189.7 641.5,185.2 641.9,172.8 642.3,173.1 642.8,174.6 643.2,179.9 643.6,184.0 644.0,179.9 644.5,183.1 644.9,178.5 645.3,184.2 645.7,181.7 646.2,185.3 646.6,197.7 647.0,179.7 647.5,178.0 647.9,189.4 648.3,195.6 648.7,171.6 649.2,197.6 649.6,184.3 650.0,178.9 650.4,169.4 650.9,184.3 651.3,197.4 651.7,166.7 652.2,177.4 652.6,178.3 653.0,173.8 653.4,169.6 653.9,161.8 654.3,181.4 654.7,188.7 655.1,181.8 655.6,188.7 656.0,196.4 656.4,170.3 656.9,180.3 657.3,183.7 657.7,194.9 658.1,183.0 658.6,183.0 659.0,169.1 659.4,183.8 659.9,170.0 660.3,183.1 660.7,180.4 661.1,199.4 661.6,177.9 662.0,177.6 662.4,181.1 662.8,167.3 663.3,185.6 663.7,176.2 664.1,184.4 664.6,178.1 665.0,184.2 665.4,178.0 665.8,187.9 666.3,180.8 666.7,170.3 667.1,180.8 667.5,176.4 668.0,174.0 668.4,181.8 668.8,190.3 669.3,173.6 669.7,188.9 670.1,189.7 670.5,174.6 671.0,188.1 671.4,182.2 671.8,177.3 672.2,176.0 672.7,174.9 673.1,188.6 673.5,191.4 674.0,179.0 674.4,190.4 674.8,179.2 675.2,183.0 675.7,184.8 676.1,177.9 676.5,174.9 677.0,167.3 677.4,182.3 677.8,184.7 678.2,186.3 678.7,178.9 679.1,179.5 679.5,176.0 679.9,164.6 680.4,167.8 680.8,195.6 681.2,167.2 681.7,177.9 682.1,198.1 682.5,178.5 682.9,178.4 683.4,162.6 683.8,188.1 684.2,183.8 684.6,180.4 685.1,173.5 685.5,171.1 685.9,196.8 686.4,189.8 686.8,186.2 687.2,181.2 687.6,184.5 688.1,186.2 688.5,179.9 688.9,183.9 689.3,184.7 689.8,182.8 690.2,193.2 690.6,170.5 691.1,173.9 691.5,173.8 691.9,194.7 692.3,183.8 692.8,169.2 693.2,184.7 693.6,165.5 694.1,177.9 694.5,184.6 694.9,184.8 695.3,195.9 695.8,175.4 696.2,175.4 696.6,180.3 697.0,183.5 697.5,171.8 697.9,193.7 698.3,185.8 698.8,186.0 699.2,176.2 699.6,185.6 700.0,174.0 700.5,187.5 700.9,171.0 701.3,180.0 701.7,181.7 702.2,181.9 702.6,172.5 703.0,181.0 703.5,180.8 703.9,178.9 704.3,182.2 704.7,191.9 705.2,191.6 705.6,188.2 706.0,179.2 706.4,180.1 706.9,161.9 707.3,180.6 707.7,172.5 708.2,179.1 708.6,177.0 709.0,193.2 709.4,194.9 709.9,172.8 710.3,186.6 710.7,168.3 711.2,176.9 711.6,182.7 712.0,188.3 712.4,185.7 712.9,166.2 713.3,168.1 713.7,183.8 714.1,188.3 714.6,183.1 715.0,171.7 715.4,187.1 715.9,201.1 716.3,173.0 716.7,180.6 717.1,188.9 717.6,196.9 718.0,188.7 718.4,197.3 718.8,177.8 719.3,189.2 719.7,171.9 720.1,185.6 720.6,169.2 721.0,183.3 721.4,196.8 721.8,174.8 722.3,185.0 722.7,180.8 723.1,187.6 723.5,189.1 724.0,178.2 724.4,176.0 724.8,204.8 725.3,177.8 725.7,191.9 726.1,188.6 726.5,188.4 727.0,190.9 727.4,185.7 727.8,201.5 728.3,190.0 728.7,188.4 729.1,177.2 729.5,179.0 730.0,179.7 730.4,185.0 730.8,175.2 731.2,176.2 731.7,185.5 732.1,185.7 732.5,182.9 733.0,195.5 733.4,184.7 733.8,182.6 734.2,172.2 734.7,170.1 735.1,203.2 735.5,195.4 735.9,190.8 736.4,199.7 736.8,183.9 737.2,185.5 737.7,177.0 738.1,186.9 738.5,173.7 738.9,175.8 739.4,185.9 739.8,191.7 740.2,173.9 740.6,190.2 741.1,196.0 741.5,182.2 741.9,187.6 742.4,198.7 742.8,177.4 743.2,195.7 743.6,181.5 744.1,185.8 744.5,186.7 744.9,186.5 745.4,189.9 745.8,213.2 746.2,193.6 746.6,186.8 747.1,193.9 747.5,171.6 747.9,181.0 748.3,176.5 748.8,179.5 749.2,205.1 749.6,186.8 750.1,188.1 750.5,199.0 750.9,200.9 751.3,196.8 751.8,203.8 752.2,203.9 752.6,206.4 753.0,194.6 753.5,177.3 753.9,195.6 754.3,183.5 754.8,175.3 755.2,193.2 755.6,191.4 756.0,180.8 756.5,195.7 756.9,211.4 757.3,183.1 757.7,184.3 758.2,175.1 758.6,194.2 759.0,198.6 759.5,197.1 759.9,191.7 760.3,176.7 760.7,194.6 761.2,189.8 761.6,186.0 762.0,178.3 762.5,202.2 762.9,199.1 763.3,202.4 763.7,190.2 764.2,192.2 764.6,179.6 765.0,187.4 765.4,183.0 765.9,206.9 766.3,197.7 766.7,196.6 767.2,201.5 767.6,181.2 768.0,190.2 768.4,195.2 768.9,205.8 769.3,185.1 769.7,194.2 770.1,197.7 770.6,196.5 771.0,205.8 771.4,198.4 771.9,200.0 772.3,202.9 772.7,185.6 773.1,204.8 773.6,199.5 774.0,207.3 774.4,201.7 774.8,199.6 775.3,199.0 775.7,186.8 776.1,185.1 776.6,200.4 777.0,213.4 777.4,181.8 777.8,189.8 778.3,197.1 778.7,197.4 779.1,204.6 779.6,208.1 780.0,206.8 780.4,202.2 780.8,204.6 781.3,185.7 781.7,200.7 782.1,184.2 782.5,202.3 783.0,203.3 783.4,205.7 783.8,188.1 784.3,219.4 784.7,198.3 785.1,205.7 785.5,205.8 786.0,208.2 786.4,203.2 786.8,189.1 787.2,208.0 787.7,205.4 788.1,214.4 788.5,215.1 789.0,246.4 789.4,202.6 789.8,214.5 790.2,209.7 790.7,210.7 791.1,226.1 791.5,199.8 791.9,198.0 792.4,215.0 792.8,233.0 793.2,209.7 793.7,209.2 794.1,231.4 794.5,218.5 794.9,212.6 795.4,208.9 795.8,207.4 796.2,229.2 796.7,217.9 797.1,206.9 797.5,212.7 797.9,202.8 798.4,219.6 798.8,237.6 799.2,210.8 799.6,234.6 800.1,246.6 800.5,220.2 800.9,202.9 801.4,230.2 801.8,209.1 802.2,199.1 802.6,221.5 803.1,228.5 803.5,234.1 803.9,239.9 804.3,235.8 804.8,229.1 805.2,202.8 805.6,230.1 806.1,215.6 806.5,217.0 806.9,224.7 807.3,216.6 807.8,226.6 808.2,209.6 808.6,220.2 809.0,221.1 809.5,235.7 809.9,224.1 810.3,233.2 810.8,223.7 811.2,235.9 811.6,236.3 812.0,233.7 812.5,245.1 812.9,243.2 813.3,232.8 813.8,237.3 814.2,242.7 814.6,229.9 815.0,234.0 815.5,237.0 815.9,237.4 816.3,242.4" fill="none" stroke="#b6b6b6" stroke-width="1.1" stroke-linejoin="round"/>
<polyline points="617.2,33.0 617.1,33.0 617.5,65.1 618.0,95.7 618.4,116.5 618.8,130.3 619.2,138.2 619.7,147.4 620.1,157.2 620.5,157.0 620.9,165.5 621.4,173.2 621.8,167.7 622.2,186.3 622.7,176.9 623.1,186.3 623.5,168.6 623.9,181.8 624.4,170.6 624.8,172.2 625.2,178.4 625.6,174.0 626.1,168.3 626.5,182.6 626.9,192.3 627.4,172.9 627.8,166.3 628.2,172.1 628.6,169.6 629.1,172.2 629.5,192.8 629.9,179.3 630.4,180.9 630.8,174.4 631.2,172.4 631.6,173.2 632.1,168.6 632.5,178.7 632.9,167.3 633.3,191.0 633.8,173.4 634.2,185.8 634.6,188.1 635.1,167.0 635.5,179.7 635.9,175.2 636.3,161.7 636.8,182.1 637.2,164.9 637.6,183.5 638.0,177.4 638.5,183.4 638.9,174.7 639.3,179.1 639.8,181.3 640.2,178.8 640.6,166.7 641.0,161.1 641.5,181.1 641.9,166.8 642.3,184.2 642.8,172.4 643.2,179.5 643.6,175.6 644.0,177.0 644.5,180.7 644.9,196.4 645.3,170.8 645.7,172.5 646.2,166.8 646.6,169.1 647.0,183.1 647.5,181.3 647.9,181.8 648.3,175.2 648.7,194.3 649.2,175.4 649.6,172.6 650.0,183.3 650.4,171.2 650.9,160.9 651.3,174.1 651.7,172.7 652.2,175.6 652.6,190.3 653.0,168.2 653.4,176.2 653.9,172.2 654.3,174.7 654.7,176.5 655.1,178.6 655.6,174.1 656.0,172.5 656.4,170.1 656.9,183.4 657.3,182.0 657.7,182.0 658.1,184.4 658.6,176.8 659.0,177.1 659.4,163.4 659.9,173.3 660.3,189.9 660.7,169.3 661.1,175.1 661.6,176.6 662.0,174.5 662.4,172.1 662.8,170.9 663.3,186.6 663.7,164.1 664.1,181.5 664.6,181.0 665.0,176.5 665.4,175.6 665.8,183.1 666.3,190.5 666.7,170.6 667.1,177.4 667.5,179.4 668.0,176.0 668.4,180.8 668.8,172.6 669.3,190.1 669.7,179.0 670.1,169.4 670.5,180.7 671.0,169.7 671.4,168.9 671.8,171.3 672.2,170.8 672.7,195.7 673.1,172.3 673.5,174.2 674.0,165.2 674.4,173.1 674.8,187.5 675.2,174.3 675.7,172.3 676.1,194.0 676.5,175.0 677.0,175.7 677.4,173.3 677.8,167.8 678.2,174.6 678.7,186.1 679.1,165.1 679.5,179.3 679.9,181.0 680.4,182.5 680.8,190.7 681.2,181.2 681.7,178.7 682.1,175.6 682.5,173.6 682.9,187.8 683.4,179.4 683.8,192.7 684.2,173.0 684.6,164.1 685.1,175.3 685.5,183.1 685.9,176.9 686.4,169.9 686.8,183.0 687.2,156.9 687.6,202.1 688.1,184.0 688.5,178.0 688.9,169.1 689.3,175.0 689.8,173.7 690.2,172.2 690.6,166.5 691.1,177.0 691.5,181.1 691.9,202.0 692.3,171.8 692.8,168.1 693.2,173.3 693.6,178.2 694.1,163.8 694.5,165.2 694.9,195.8 695.3,176.0 695.8,177.2 696.2,189.1 696.6,179.8 697.0,172.4 697.5,173.5 697.9,170.1 698.3,180.6 698.8,162.7 699.2,168.2 699.6,180.7 700.0,175.0 700.5,171.1 700.9,180.9 701.3,163.6 701.7,172.4 702.2,172.4 702.6,172.9 703.0,173.0 703.5,172.8 703.9,171.5 704.3,182.6 704.7,177.6 705.2,176.1 705.6,164.5 706.0,165.8 706.4,176.6 706.9,177.9 707.3,174.7 707.7,175.9 708.2,174.3 708.6,186.4 709.0,176.2 709.4,169.6 709.9,188.3 710.3,181.2 710.7,176.9 711.2,165.4 711.6,181.7 712.0,188.5 712.4,168.0 712.9,179.0 713.3,167.2 713.7,179.1 714.1,171.7 714.6,177.8 715.0,162.4 715.4,176.8 715.9,191.7 716.3,184.1 716.7,169.5 717.1,176.7 717.6,169.5 718.0,181.2 718.4,169.4 718.8,167.8 719.3,173.2 719.7,168.8 720.1,174.3 720.6,185.5 721.0,178.4 721.4,175.8 721.8,172.4 722.3,166.7 722.7,172.1 723.1,177.5 723.5,173.1 724.0,185.4 724.4,169.1 724.8,172.8 725.3,183.3 725.7,171.9 726.1,180.9 726.5,168.6 727.0,166.6 727.4,175.6 727.8,174.9 728.3,185.2 728.7,181.1 729.1,189.2 729.5,169.8 730.0,166.2 730.4,187.9 730.8,178.3 731.2,165.8 731.7,174.7 732.1,182.4 732.5,181.8 733.0,171.7 733.4,166.0 733.8,179.0 734.2,185.8 734.7,166.5 735.1,166.0 735.5,176.0 735.9,177.3 736.4,164.1 736.8,179.2 737.2,169.5 737.7,172.9 738.1,187.8 738.5,172.8 738.9,185.5 739.4,181.7 739.8,182.6 740.2,161.2 740.6,164.3 741.1,183.4 741.5,182.2 741.9,183.6 742.4,169.4 742.8,167.8 743.2,180.4 743.6,189.3 744.1,188.1 744.5,189.2 744.9,170.7 745.4,178.7 745.8,173.1 746.2,169.4 746.6,184.8 747.1,171.9 747.5,162.5 747.9,183.0 748.3,174.8 748.8,163.9 749.2,173.1 749.6,165.8 750.1,188.1 750.5,167.4 750.9,175.3 751.3,178.2 751.8,164.2 752.2,178.1 752.6,167.8 753.0,177.8 753.5,173.4 753.9,181.8 754.3,181.3 754.8,179.2 755.2,178.7 755.6,161.3 756.0,176.4 756.5,198.0 756.9,189.8 757.3,160.7 757.7,170.0 758.2,167.0 758.6,201.6 759.0,178.8 759.5,171.5 759.9,171.5 760.3,187.7 760.7,174.2 761.2,174.3 761.6,174.9 762.0,185.5 762.5,180.0 762.9,184.6 763.3,176.7 763.7,168.7 764.2,193.1 764.6,169.5 765.0,191.2 765.4,189.6 765.9,170.8 766.3,182.6 766.7,184.5 767.2,176.8 767.6,183.5 768.0,181.0 768.4,168.2 768.9,195.1 769.3,193.5 769.7,182.6 770.1,192.6 770.6,191.2 771.0,192.6 771.4,169.5 771.9,174.0 772.3,188.0 772.7,182.9 773.1,178.8 773.6,177.0 774.0,197.4 774.4,186.1 774.8,190.8 775.3,179.6 775.7,187.6 776.1,190.1 776.6,202.8 777.0,197.8 777.4,194.7 777.8,182.8 778.3,195.9 778.7,194.1 779.1,188.8 779.6,193.2 780.0,188.4 780.4,176.6 780.8,196.1 781.3,188.9 781.7,196.7 782.1,189.7 782.5,200.3 783.0,202.8 783.4,187.4 783.8,185.9 784.3,202.5 784.7,204.5 785.1,207.1 785.5,199.4 786.0,172.0 786.4,205.9 786.8,183.1 787.2,208.7 787.7,183.8 788.1,202.2 788.5,183.9 789.0,199.0 789.4,176.7 789.8,187.6 790.2,190.7 790.7,194.8 791.1,211.8 791.5,202.0 791.9,192.4 792.4,209.4 792.8,201.4 793.2,210.3 793.7,196.3 794.1,181.9 794.5,204.3 794.9,197.8 795.4,208.8 795.8,201.9 796.2,216.6 796.7,195.4 797.1,200.5 797.5,181.9 797.9,196.2 798.4,206.6 798.8,197.1 799.2,204.9 799.6,207.8 800.1,197.9 800.5,230.2 800.9,230.9 801.4,210.7 801.8,200.3 802.2,209.1 802.6,197.4 803.1,210.4 803.5,214.2 803.9,203.1 804.3,208.9 804.8,212.4 805.2,193.8 805.6,213.3 806.1,210.0 806.5,212.5 806.9,236.7 807.3,233.6 807.8,233.6 808.2,220.1 808.6,213.4 809.0,205.1 809.5,249.1 809.9,224.9 810.3,199.1 810.8,196.3 811.2,213.5 811.6,197.7 812.0,230.2 812.5,243.0 812.9,226.7 813.3,221.5 813.8,211.2 814.2,216.4 814.6,222.9 815.0,227.5 815.5,259.0 815.9,228.2 816.3,250.1" fill="none" stroke="#d2d2d2" stroke-width="1.1" stroke-linejoin="round"/>
<polyline points="617.2,33.0 617.1,33.0 617.5,65.2 618.0,94.9 618.4,115.3 618.8,132.4 619.2,140.7 619.7,150.3 620.1,153.0 620.5,162.4 620.9,169.0 621.4,158.4 621.8,162.0 622.2,159.6 622.7,171.2 623.1,181.9 623.5,187.3 623.9,167.8 624.4,179.1 624.8,179.3 625.2,169.7 625.6,187.5 626.1,189.5 626.5,185.0 626.9,185.9 627.4,183.3 627.8,175.2 628.2,174.9 628.6,172.9 629.1,177.5 629.5,178.2 629.9,171.8 630.4,174.4 630.8,180.2 631.2,182.2 631.6,182.5 632.1,171.4 632.5,172.6 632.9,185.4 633.3,187.6 633.8,163.2 634.2,183.4 634.6,176.6 635.1,183.0 635.5,173.7 635.9,191.3 636.3,170.5 636.8,186.0 637.2,187.5 637.6,164.4 638.0,176.9 638.5,168.0 638.9,174.2 639.3,188.8 639.8,178.5 640.2,165.1 640.6,190.3 641.0,184.8 641.5,161.7 641.9,175.3 642.3,170.3 642.8,176.2 643.2,168.2 643.6,183.4 644.0,166.7 644.5,186.1 644.9,158.3 645.3,170.4 645.7,177.3 646.2,180.0 646.6,197.1 647.0,169.9 647.5,178.9 647.9,169.7 648.3,173.3 648.7,174.1 649.2,179.6 649.6,176.9 650.0,168.8 650.4,181.9 650.9,176.9 651.3,173.5 651.7,184.8 652.2,155.5 652.6,176.4 653.0,181.0 653.4,194.2 653.9,175.1 654.3,196.7 654.7,187.8 655.1,173.5 655.6,177.2 656.0,187.0 656.4,169.4 656.9,157.6 657.3,171.4 657.7,175.2 658.1,197.4 658.6,172.6 659.0,180.0 659.4,162.7 659.9,186.8 660.3,166.4 660.7,200.8 661.1,188.8 661.6,176.5 662.0,188.3 662.4,178.5 662.8,179.3 663.3,163.3 663.7,174.9 664.1,185.9 664.6,179.2 665.0,172.9 665.4,169.3 665.8,169.6 666.3,174.1 666.7,168.3 667.1,197.5 667.5,169.5 668.0,178.7 668.4,170.2 668.8,173.5 669.3,176.7 669.7,176.1 670.1,176.2 670.5,174.0 671.0,184.8 671.4,174.3 671.8,171.4 672.2,179.6 672.7,177.7 673.1,198.7 673.5,195.2 674.0,175.3 674.4,189.7 674.8,174.8 675.2,187.1 675.7,165.2 676.1,191.0 676.5,196.3 677.0,177.9 677.4,187.6 677.8,168.9 678.2,189.5 678.7,176.7 679.1,184.2 679.5,178.4 679.9,175.6 680.4,176.1 680.8,183.8 681.2,169.7 681.7,175.8 682.1,169.1 682.5,173.0 682.9,172.8 683.4,176.1 683.8,176.7 684.2,176.0 684.6,179.3 685.1,176.4 685.5,184.4 685.9,166.0 686.4,170.3 686.8,180.5 687.2,191.4 687.6,183.5 688.1,166.9 688.5,174.8 688.9,172.4 689.3,172.9 689.8,197.1 690.2,178.6 690.6,181.4 691.1,169.2 691.5,179.8 691.9,176.4 692.3,184.1 692.8,174.1 693.2,179.1 693.6,172.5 694.1,182.9 694.5,177.7 694.9,173.8 695.3,172.6 695.8,173.5 696.2,170.9 696.6,161.7 697.0,174.1 697.5,165.9 697.9,169.7 698.3,187.8 698.8,169.1 699.2,190.3 699.6,189.2 700.0,176.4 700.5,178.9 700.9,177.2 701.3,156.6 701.7,176.7 702.2,165.4 702.6,162.6 703.0,174.2 703.5,183.5 703.9,184.2 704.3,170.9 704.7,179.1 705.2,178.0 705.6,169.5 706.0,169.1 706.4,178.9 706.9,174.3 707.3,176.8 707.7,175.5 708.2,184.0 708.6,177.9 709.0,178.6 709.4,167.9 709.9,169.6 710.3,175.1 710.7,167.6 711.2,174.3 711.6,185.6 712.0,166.7 712.4,166.0 712.9,177.8 713.3,169.2 713.7,164.0 714.1,162.6 714.6,163.6 715.0,177.8 715.4,174.0 715.9,165.8 716.3,185.4 716.7,158.6 717.1,178.0 717.6,170.4 718.0,174.8 718.4,181.5 718.8,176.7 719.3,182.5 719.7,180.7 720.1,181.9 720.6,163.0 721.0,163.0 721.4,166.2 721.8,171.9 722.3,168.9 722.7,160.9 723.1,176.8 723.5,175.2 724.0,161.0 724.4,158.9 724.8,170.3 725.3,189.1 725.7,171.6 726.1,183.2 726.5,171.4 727.0,178.3 727.4,160.8 727.8,172.8 728.3,159.2 728.7,171.7 729.1,187.0 729.5,180.8 730.0,167.8 730.4,178.6 730.8,170.4 731.2,162.8 731.7,175.1 732.1,182.6 732.5,165.3 733.0,183.3 733.4,164.8 733.8,165.2 734.2,167.7 734.7,174.2 735.1,177.4 735.5,173.5 735.9,169.6 736.4,165.9 736.8,176.4 737.2,154.7 737.7,182.1 738.1,177.1 738.5,176.3 738.9,167.5 739.4,162.2 739.8,174.1 740.2,170.9 740.6,175.8 741.1,159.4 741.5,174.1 741.9,169.3 742.4,164.3 742.8,171.8 743.2,184.7 743.6,161.7 744.1,175.4 744.5,177.1 744.9,155.5 745.4,161.1 745.8,171.8 746.2,169.9 746.6,163.7 747.1,174.4 747.5,149.2 747.9,161.3 748.3,170.5 748.8,169.5 749.2,163.8 749.6,167.1 750.1,167.2 750.5,177.9 750.9,174.7 751.3,168.8 751.8,169.9 752.2,172.7 752.6,153.8 753.0,162.3 753.5,173.3 753.9,171.5 754.3,168.3 754.8,157.4 755.2,166.4 755.6,169.3 756.0,168.8 756.5,164.3 756.9,164.6 757.3,184.4 757.7,161.2 758.2,169.4 758.6,160.0 759.0,163.3 759.5,166.2 759.9,173.8 760.3,168.8 760.7,166.5 761.2,177.6 761.6,175.2 762.0,179.1 762.5,158.1 762.9,161.7 763.3,169.4 763.7,167.0 764.2,169.8 764.6,166.6 765.0,177.9 765.4,177.1 765.9,160.7 766.3,169.7 766.7,184.2 767.2,186.6 767.6,169.7 768.0,167.3 768.4,172.6 768.9,162.6 769.3,185.7 769.7,163.8 770.1,172.1 770.6,184.2 771.0,177.7 771.4,187.0 771.9,176.0 772.3,170.9 772.7,169.9 773.1,175.0 773.6,176.7 774.0,176.5 774.4,176.9 774.8,190.9 775.3,182.4 775.7,176.5 776.1,166.7 776.6,164.3 777.0,173.9 777.4,183.6 777.8,177.2 778.3,171.3 778.7,164.6 779.1,184.2 779.6,168.7 780.0,171.8 780.4,178.1 780.8,168.2 781.3,173.3 781.7,175.9 782.1,187.7 782.5,174.4 783.0,175.4 783.4,188.9 783.8,196.6 784.3,170.6 784.7,176.2 785.1,169.1 785.5,181.5 786.0,175.6 786.4,191.8 786.8,201.8 787.2,178.0 787.7,166.9 788.1,168.5 788.5,177.2 789.0,182.1 789.4,183.2 789.8,188.0 790.2,179.3 790.7,189.6 791.1,189.7 791.5,185.5 791.9,186.7 792.4,174.5 792.8,187.2 793.2,184.0 793.7,183.2 794.1,201.1 794.5,188.6 794.9,179.8 795.4,183.8 795.8,187.0 796.2,186.7 796.7,209.9 797.1,217.1 797.5,202.0 797.9,200.1 798.4,197.4 798.8,201.0 799.2,193.8 799.6,193.0 800.1,185.7 800.5,192.9 800.9,203.5 801.4,211.3 801.8,196.6 802.2,202.8 802.6,191.9 803.1,192.9 803.5,201.3 803.9,195.1 804.3,200.5 804.8,196.4 805.2,196.8 805.6,191.0 806.1,211.8 806.5,209.6 806.9,221.1 807.3,224.2 807.8,203.5 808.2,219.4 808.6,208.5 809.0,196.8 809.5,227.4 809.9,214.3 810.3,190.4 810.8,236.2 811.2,232.9 811.6,201.6 812.0,231.7 812.5,201.5 812.9,221.8 813.3,210.0 813.8,212.3 814.2,223.5 814.6,196.4 815.0,214.5 815.5,216.1 815.9,213.7 816.3,232.5" fill="none" stroke="#e4e4e4" stroke-width="1.1" stroke-linejoin="round"/>
<polyline points="617.2,33.0 617.1,33.0 617.5,65.5 618.0,95.8 618.4,117.4 618.8,132.0 619.2,145.3 619.7,150.8 620.1,151.4 620.5,169.4 620.9,166.6 621.4,176.1 621.8,173.8 622.2,179.2 622.7,190.3 623.1,194.2 623.5,175.3 623.9,178.1 624.4,182.5 624.8,192.1 625.2,192.5 625.6,181.5 626.1,195.2 626.5,182.8 626.9,183.8 627.4,170.9 627.8,180.0 628.2,177.6 628.6,183.4 629.1,172.5 629.5,186.4 629.9,179.2 630.4,177.7 630.8,186.2 631.2,174.5 631.6,199.3 632.1,174.0 632.5,188.0 632.9,170.9 633.3,183.4 633.8,175.6 634.2,174.7 634.6,172.9 635.1,203.0 635.5,208.5 635.9,173.9 636.3,161.1 636.8,191.1 637.2,176.6 637.6,198.5 638.0,188.4 638.5,183.9 638.9,177.3 639.3,186.9 639.8,198.4 640.2,196.9 640.6,173.7 641.0,170.6 641.5,177.8 641.9,191.1 642.3,182.9 642.8,183.1 643.2,177.2 643.6,178.2 644.0,191.3 644.5,169.9 644.9,195.9 645.3,197.1 645.7,193.7 646.2,188.9 646.6,174.7 647.0,177.8 647.5,184.2 647.9,189.0 648.3,174.8 648.7,182.6 649.2,174.1 649.6,202.1 650.0,172.0 650.4,183.2 650.9,180.0 651.3,175.3 651.7,182.4 652.2,172.3 652.6,178.5 653.0,193.2 653.4,177.8 653.9,183.1 654.3,193.4 654.7,169.5 655.1,182.7 655.6,181.3 656.0,192.7 656.4,171.1 656.9,180.4 657.3,174.3 657.7,171.4 658.1,178.7 658.6,184.4 659.0,185.6 659.4,186.3 659.9,183.2 660.3,184.1 660.7,189.7 661.1,175.6 661.6,193.8 662.0,180.1 662.4,187.9 662.8,178.0 663.3,172.1 663.7,171.1 664.1,180.4 664.6,188.7 665.0,189.1 665.4,186.5 665.8,178.5 666.3,185.4 666.7,182.6 667.1,180.9 667.5,185.0 668.0,182.6 668.4,190.8 668.8,189.8 669.3,172.3 669.7,179.6 670.1,171.1 670.5,187.5 671.0,168.4 671.4,175.1 671.8,192.9 672.2,176.5 672.7,174.7 673.1,181.9 673.5,176.6 674.0,190.0 674.4,189.0 674.8,177.4 675.2,190.1 675.7,172.6 676.1,179.0 676.5,177.3 677.0,188.7 677.4,181.9 677.8,191.6 678.2,196.3 678.7,177.9 679.1,193.4 679.5,176.6 679.9,183.2 680.4,183.8 680.8,183.6 681.2,174.2 681.7,185.0 682.1,175.6 682.5,175.0 682.9,189.9 683.4,195.4 683.8,174.9 684.2,211.4 684.6,169.4 685.1,195.6 685.5,173.2 685.9,194.8 686.4,183.9 686.8,198.8 687.2,183.0 687.6,174.7 688.1,183.0 688.5,161.6 688.9,173.0 689.3,202.1 689.8,171.9 690.2,190.1 690.6,182.7 691.1,189.8 691.5,181.9 691.9,183.8 692.3,185.5 692.8,186.3 693.2,177.1 693.6,175.8 694.1,205.8 694.5,196.1 694.9,183.5 695.3,166.0 695.8,178.2 696.2,179.8 696.6,173.2 697.0,194.2 697.5,186.2 697.9,199.5 698.3,179.4 698.8,185.6 699.2,193.8 699.6,200.8 700.0,184.5 700.5,194.0 700.9,185.4 701.3,185.8 701.7,170.5 702.2,175.6 702.6,195.4 703.0,189.0 703.5,194.8 703.9,179.4 704.3,170.4 704.7,185.4 705.2,173.9 705.6,201.3 706.0,183.0 706.4,191.9 706.9,182.8 707.3,190.6 707.7,182.1 708.2,171.3 708.6,181.8 709.0,182.9 709.4,191.9 709.9,187.5 710.3,187.3 710.7,186.2 711.2,178.2 711.6,190.6 712.0,182.1 712.4,203.6 712.9,193.2 713.3,184.4 713.7,185.4 714.1,199.5 714.6,199.2 715.0,191.9 715.4,187.9 715.9,191.8 716.3,190.9 716.7,183.8 717.1,190.4 717.6,177.2 718.0,197.9 718.4,198.3 718.8,178.1 719.3,202.1 719.7,185.3 720.1,193.9 720.6,202.3 721.0,198.5 721.4,182.1 721.8,182.9 722.3,191.1 722.7,176.6 723.1,171.2 723.5,193.2 724.0,193.3 724.4,178.2 724.8,186.1 725.3,183.5 725.7,181.9 726.1,188.7 726.5,193.4 727.0,194.8 727.4,188.1 727.8,177.2 728.3,204.8 728.7,196.8 729.1,179.7 729.5,184.1 730.0,192.8 730.4,197.2 730.8,194.2 731.2,182.6 731.7,184.5 732.1,186.1 732.5,177.6 733.0,194.3 733.4,205.8 733.8,203.9 734.2,193.3 734.7,186.1 735.1,198.8 735.5,170.1 735.9,178.3 736.4,191.6 736.8,190.7 737.2,198.5 737.7,182.4 738.1,188.7 738.5,202.5 738.9,185.5 739.4,204.6 739.8,208.0 740.2,206.6 740.6,211.3 741.1,184.9 741.5,192.0 741.9,196.1 742.4,185.8 742.8,191.4 743.2,187.5 743.6,199.5 744.1,200.8 744.5,189.8 744.9,196.2 745.4,197.2 745.8,200.2 746.2,199.9 746.6,177.4 747.1,180.5 747.5,193.2 747.9,188.9 748.3,194.1 748.8,187.2 749.2,196.3 749.6,195.8 750.1,209.4 750.5,182.1 750.9,198.6 751.3,190.3 751.8,188.2 752.2,197.7 752.6,216.6 753.0,198.8 753.5,216.3 753.9,202.6 754.3,184.5 754.8,200.0 755.2,200.3 755.6,191.8 756.0,189.7 756.5,211.6 756.9,217.9 757.3,215.6 757.7,195.6 758.2,198.9 758.6,214.9 759.0,200.0 759.5,217.8 759.9,203.9 760.3,195.1 760.7,189.9 761.2,205.4 761.6,199.4 762.0,202.9 762.5,200.8 762.9,212.1 763.3,208.8 763.7,203.9 764.2,191.8 764.6,206.6 765.0,196.5 765.4,196.0 765.9,203.4 766.3,190.9 766.7,206.4 767.2,192.2 767.6,211.9 768.0,190.8 768.4,209.9 768.9,212.3 769.3,180.2 769.7,203.7 770.1,195.9 770.6,199.0 771.0,199.6 771.4,197.4 771.9,195.6 772.3,198.2 772.7,187.1 773.1,211.5 773.6,195.7 774.0,206.4 774.4,204.7 774.8,215.0 775.3,193.4 775.7,201.2 776.1,227.1 776.6,200.4 777.0,204.1 777.4,207.4 777.8,206.6 778.3,209.3 778.7,204.9 779.1,206.9 779.6,202.6 780.0,209.4 780.4,202.0 780.8,197.6 781.3,206.6 781.7,220.0 782.1,201.7 782.5,210.5 783.0,205.3 783.4,199.5 783.8,210.2 784.3,193.5 784.7,199.3 785.1,209.7 785.5,209.5 786.0,215.3 786.4,219.5 786.8,207.7 787.2,216.2 787.7,205.7 788.1,213.6 788.5,204.2 789.0,209.1 789.4,216.0 789.8,211.1 790.2,206.2 790.7,219.9 791.1,225.0 791.5,224.8 791.9,224.7 792.4,219.5 792.8,215.0 793.2,206.5 793.7,193.4 794.1,212.8 794.5,218.6 794.9,201.8 795.4,198.3 795.8,217.9 796.2,214.6 796.7,211.3 797.1,219.6 797.5,243.5 797.9,197.7 798.4,234.5 798.8,247.2 799.2,220.3 799.6,217.0 800.1,224.4 800.5,228.9 800.9,233.7 801.4,245.2 801.8,218.5 802.2,224.8 802.6,229.6 803.1,226.0 803.5,208.8 803.9,244.3 804.3,219.3 804.8,226.8 805.2,250.4 805.6,236.5 806.1,247.6 806.5,229.0 806.9,237.9 807.3,236.3 807.8,238.7 808.2,226.3 808.6,249.8 809.0,228.5 809.5,244.4 809.9,250.3 810.3,246.3 810.8,259.0 811.2,227.1 811.6,240.7 812.0,235.0 812.5,252.1 812.9,253.2 813.3,226.4 813.8,242.3 814.2,227.8 814.6,240.0 815.0,247.2 815.5,259.0 815.9,259.0 816.3,256.5" fill="none" stroke="#c4c4c4" stroke-width="1.1" stroke-linejoin="round"/>
<polyline points="617.2,33.0 617.1,33.0 617.5,65.2 618.0,94.6 618.4,117.4 618.8,128.8 619.2,144.2 619.7,147.8 620.1,151.3 620.5,155.6 620.9,164.8 621.4,167.8 621.8,175.9 622.2,170.8 622.7,173.7 623.1,180.1 623.5,176.6 623.9,177.5 624.4,169.9 624.8,180.5 625.2,172.2 625.6,177.0 626.1,170.8 626.5,183.9 626.9,196.5 627.4,182.0 627.8,178.4 628.2,168.7 628.6,153.4 629.1,184.4 629.5,181.7 629.9,173.8 630.4,182.3 630.8,182.8 631.2,189.5 631.6,189.4 632.1,177.6 632.5,175.5 632.9,173.1 633.3,186.5 633.8,183.4 634.2,178.4 634.6,175.4 635.1,183.2 635.5,178.2 635.9,164.6 636.3,179.1 636.8,191.1 637.2,169.6 637.6,185.7 638.0,172.5 638.5,177.3 638.9,185.1 639.3,174.6 639.8,164.8 640.2,179.1 640.6,181.1 641.0,179.8 641.5,162.2 641.9,181.0 642.3,180.8 642.8,183.3 643.2,171.9 643.6,179.6 644.0,181.3 644.5,182.3 644.9,180.2 645.3,174.5 645.7,178.2 646.2,188.9 646.6,167.0 647.0,181.1 647.5,177.8 647.9,166.2 648.3,186.1 648.7,196.8 649.2,173.7 649.6,169.7 650.0,179.3 650.4,178.8 650.9,183.0 651.3,153.0 651.7,169.9 652.2,172.8 652.6,167.1 653.0,182.3 653.4,164.7 653.9,167.2 654.3,198.2 654.7,176.0 655.1,183.4 655.6,187.2 656.0,196.7 656.4,164.0 656.9,172.0 657.3,187.5 657.7,185.7 658.1,181.4 658.6,179.3 659.0,190.1 659.4,185.7 659.9,186.2 660.3,171.7 660.7,190.7 661.1,186.2 661.6,167.3 662.0,168.5 662.4,176.8 662.8,180.5 663.3,182.8 663.7,163.7 664.1,175.1 664.6,179.7 665.0,171.7 665.4,176.5 665.8,176.7 666.3,194.9 666.7,189.6 667.1,175.3 667.5,169.8 668.0,187.5 668.4,172.7 668.8,170.1 669.3,168.0 669.7,173.1 670.1,159.9 670.5,177.4 671.0,155.6 671.4,179.4 671.8,186.2 672.2,179.5 672.7,182.7 673.1,195.5 673.5,178.8 674.0,181.5 674.4,184.2 674.8,173.2 675.2,176.9 675.7,166.6 676.1,161.2 676.5,165.3 677.0,186.3 677.4,175.3 677.8,181.5 678.2,185.6 678.7,161.2 679.1,176.9 679.5,169.8 679.9,180.3 680.4,173.7 680.8,165.3 681.2,171.5 681.7,178.6 682.1,155.7 682.5,162.5 682.9,186.8 683.4,180.9 683.8,167.0 684.2,169.4 684.6,165.7 685.1,165.2 685.5,173.0 685.9,161.8 686.4,165.0 686.8,150.2 687.2,149.2 687.6,166.9 688.1,150.5 688.5,169.3 688.9,156.1 689.3,157.3 689.8,143.3 690.2,184.6 690.6,165.1 691.1,170.6 691.5,174.7 691.9,160.2 692.3,161.0 692.8,163.8 693.2,185.9 693.6,152.4 694.1,166.5 694.5,161.7 694.9,167.1 695.3,156.2 695.8,158.0 696.2,161.6 696.6,154.4 697.0,164.6 697.5,164.8 697.9,161.5 698.3,157.6 698.8,166.1 699.2,154.6 699.6,160.2 700.0,156.2 700.5,150.6 700.9,149.7 701.3,162.1 701.7,163.0 702.2,160.1 702.6,167.5 703.0,163.4 703.5,160.8 703.9,145.0 704.3,167.5 704.7,146.5 705.2,157.7 705.6,167.6 706.0,155.2 706.4,158.0 706.9,147.4 707.3,156.4 707.7,146.1 708.2,143.4 708.6,138.8 709.0,154.9 709.4,164.6 709.9,149.6 710.3,158.0 710.7,146.6 711.2,151.3 711.6,147.0 712.0,150.9 712.4,132.0 712.9,160.5 713.3,144.1 713.7,149.6 714.1,148.5 714.6,141.6 715.0,145.7 715.4,145.7 715.9,144.8 716.3,147.8 716.7,154.1 717.1,150.8 717.6,156.9 718.0,139.8 718.4,144.2 718.8,150.4 719.3,148.4 719.7,144.6 720.1,149.6 720.6,156.8 721.0,156.0 721.4,147.9 721.8,160.5 722.3,139.0 722.7,133.8 723.1,150.3 723.5,147.1 724.0,145.8 724.4,135.9 724.8,153.3 725.3,140.6 725.7,145.4 726.1,136.3 726.5,146.8 727.0,143.8 727.4,147.0 727.8,135.1 728.3,141.2 728.7,146.3 729.1,136.6 729.5,150.8 730.0,145.3 730.4,128.0 730.8,143.7 731.2,135.9 731.7,136.0 732.1,135.1 732.5,131.2 733.0,141.8 733.4,135.2 733.8,136.4 734.2,143.6 734.7,136.3 735.1,142.2 735.5,155.4 735.9,134.7 736.4,138.2 736.8,136.2 737.2,132.5 737.7,146.1 738.1,135.4 738.5,136.5 738.9,140.5 739.4,139.2 739.8,141.2 740.2,126.2 740.6,128.2 741.1,124.7 741.5,139.2 741.9,125.5 742.4,133.2 742.8,141.7 743.2,124.5 743.6,147.0 744.1,136.3 744.5,140.9 744.9,144.0 745.4,148.5 745.8,139.1 746.2,136.7 746.6,141.6 747.1,128.6 747.5,128.6 747.9,128.3 748.3,128.9 748.8,125.8 749.2,122.9 749.6,139.8 750.1,127.4 750.5,133.0 750.9,130.5 751.3,134.5 751.8,129.3 752.2,125.2 752.6,130.1 753.0,128.8 753.5,137.1 753.9,130.6 754.3,122.9 754.8,134.3 755.2,130.9 755.6,129.2 756.0,122.0 756.5,116.2 756.9,126.3 757.3,126.0 757.7,122.7 758.2,120.3 758.6,128.2 759.0,120.3 759.5,120.7 759.9,114.5 760.3,116.4 760.7,119.5 761.2,130.3 761.6,115.0 762.0,119.6 762.5,112.4 762.9,115.3 763.3,121.1 763.7,111.7 764.2,126.1 764.6,123.3 765.0,122.9 765.4,113.7 765.9,117.9 766.3,119.0 766.7,107.1 767.2,116.7 767.6,111.5 768.0,115.4 768.4,117.4 768.9,110.6 769.3,114.5 769.7,118.0 770.1,104.1 770.6,114.3 771.0,108.4 771.4,114.1 771.9,116.7 772.3,110.6 772.7,106.4 773.1,105.3 773.6,104.4 774.0,106.7 774.4,106.3 774.8,120.9 775.3,104.3 775.7,103.5 776.1,108.2 776.6,104.1 777.0,105.6 777.4,101.0 777.8,90.6 778.3,105.6 778.7,101.6 779.1,99.3 779.6,104.7 780.0,105.4 780.4,88.7 780.8,94.7 781.3,95.5 781.7,93.0 782.1,95.7 782.5,97.9 783.0,94.1 783.4,84.9 783.8,92.6 784.3,91.9 784.7,100.7 785.1,85.9 785.5,87.6 786.0,84.9 786.4,89.4 786.8,91.4 787.2,80.5 787.7,83.9 788.1,80.5 788.5,85.4 789.0,81.2 789.4,84.3 789.8,86.7 790.2,80.3 790.7,80.9 791.1,75.2 791.5,83.1 791.9,74.3 792.4,79.4 792.8,81.9 793.2,82.5 793.7,78.0 794.1,81.5 794.5,78.2 794.9,81.4 795.4,75.5 795.8,74.9 796.2,71.7 796.7,73.3 797.1,73.6 797.5,73.7 797.9,73.1 798.4,71.6 798.8,64.3 799.2,63.7 799.6,62.8 800.1,63.7 800.5,60.1 800.9,66.2 801.4,62.7 801.8,59.1 802.2,58.2 802.6,64.7 803.1,59.2 803.5,61.9 803.9,59.2 804.3,63.4 804.8,52.6 805.2,53.5 805.6,58.0 806.1,54.0 806.5,52.5 806.9,52.8 807.3,45.4 807.8,48.4 808.2,54.8 808.6,50.0 809.0,53.3 809.5,46.3 809.9,44.5 810.3,45.7 810.8,45.3 811.2,41.7 811.6,46.9 812.0,50.6 812.5,39.4 812.9,39.7 813.3,42.2 813.8,41.4 814.2,36.3 814.6,40.0 815.0,41.5 815.5,38.3 815.9,33.0 816.3,33.0" fill="none" stroke="#000" stroke-width="1.4" stroke-linejoin="round"/>
</g>
<rect x="723.5" y="166.5" width="77.5" height="16.5" fill="#fff" fill-opacity="0.93"/>
<rect x="734.5" y="186.3" width="54.5" height="15.8" fill="#fff" fill-opacity="0.93"/>
<text x="762.2" y="181.5" font-size="19" text-anchor="middle" font-weight="normal" fill="#000" >Incorrect</text>
<text x="761.9" y="200" font-size="19" text-anchor="middle" font-weight="normal" fill="#000" >songs</text>
<line x1="616.80" y1="77.40" x2="816.50" y2="77.40" stroke="#000" stroke-width="2.4" stroke-dasharray="11 11.8"/>
<line x1="674.20" y1="33.70" x2="674.20" y2="264.00" stroke="#000" stroke-width="2.2" stroke-dasharray="3.7 3.8"/>
<line x1="616.80" y1="32.70" x2="616.80" y2="265.60" stroke="#000" stroke-width="2.2" />
<line x1="615.70" y1="264.70" x2="816.60" y2="264.70" stroke="#000" stroke-width="2.2" />
<text x="683.3" y="71.1" font-size="18.4" text-anchor="start" font-weight="normal" fill="#000" >Threshold</text>
<text x="728.0" y="103.0" font-size="18.7" text-anchor="middle" font-weight="normal" fill="#000" >Correct</text>
<text x="727.9" y="122.2" font-size="18.7" text-anchor="middle" font-weight="normal" fill="#000" >song</text>
<text x="611.8" y="41.6" font-size="18" text-anchor="end" font-weight="normal" fill="#000" >50</text>
<text x="611.8" y="98.2" font-size="18" text-anchor="end" font-weight="normal" fill="#000" >10</text>
<text x="611.8" y="183.4" font-size="18" text-anchor="end" font-weight="normal" fill="#000" >1</text>
<text x="611.8" y="266.5" font-size="18" text-anchor="end" font-weight="normal" fill="#000" >0.1</text>
<text x="619.6" y="282.7" font-size="18" text-anchor="middle" font-weight="normal" fill="#000" >-0.2</text>
<text x="674.2" y="282.7" font-size="18" text-anchor="middle" font-weight="normal" fill="#000" >0</text>
<text x="745.5" y="282.7" font-size="18" text-anchor="middle" font-weight="normal" fill="#000" >0.25</text>
<text x="811.5" y="282.7" font-size="18" text-anchor="middle" font-weight="normal" fill="#000" >0.5</text>
<text x="719.2" y="306.2" font-size="22.6" text-anchor="middle" font-weight="normal" fill="#000" >Time (s)</text>
<text transform="translate(555.3,147.7) rotate(-90)" font-size="24" text-anchor="middle">Decision network</text>
<text transform="translate(578.7,148.9) rotate(-90)" font-size="23.2" text-anchor="middle">firing rate (Hz)</text>
<path d="M180.6,597.5 L180.6,596.3 L187.4,596.3 L187.4,581.3 L194.7,581.3 L194.7,526 L201.7,526 L201.7,494.7 L208,494.7 L208,474.7 L215,474.7 L215,421.6 L221.6,421.6 L221.6,402.4 L228.4,402.4 L228.4,412.4 L235,412.4 L235,448.4 L242.1,448.4 L242.1,470.3 L248.7,470.3 L248.7,495.3 L255,495.3 L255,517 L262.4,517 L262.4,534.1 L269.5,534.1 L269.5,555.3 L276.5,555.3 L276.5,571 L283.3,571 L283.3,575.4 L290,575.4 L290,583.4 L296.8,583.4 L296.8,589.2 L303.7,589.2 L303.7,588.2 L310.3,588.2 L310.3,593.1 L317.2,593.1 L317.2,591.4 L324,591.4 L324,593.5 L330.6,593.5 L330.6,594.7 L337.5,594.7 L337.5,595.1 L344.3,595.1 L344.3,596.4 L351.3,596.4 L351.3,596 L357.8,596 L357.8,596.3 L364.3,596.3 L364.3,596.6 L371.6,596.6 L371.6,596.8 L378,596.8 L378,597.5 Z" fill="#d4d4d4" stroke="#1a1a1a" stroke-width="1.35" stroke-linejoin="miter"/>
<line x1="158.20" y1="365.80" x2="158.20" y2="598.50" stroke="#000" stroke-width="2" />
<line x1="157.20" y1="597.60" x2="381.60" y2="597.60" stroke="#000" stroke-width="2.2" />
<text x="152.3" y="368.2" font-size="17.5" text-anchor="end" font-weight="normal" fill="#000" >15</text>
<text x="152.3" y="446.3" font-size="17.5" text-anchor="end" font-weight="normal" fill="#000" >10</text>
<text x="152.3" y="522.8" font-size="17.5" text-anchor="end" font-weight="normal" fill="#000" >5</text>
<text x="152.3" y="601.9" font-size="17.5" text-anchor="end" font-weight="normal" fill="#000" >0</text>
<text x="158.1" y="614.5" font-size="17.5" text-anchor="middle" font-weight="normal" fill="#000" >0</text>
<text x="217.2" y="614.5" font-size="17.5" text-anchor="middle" font-weight="normal" fill="#000" >410</text>
<text x="273.5" y="614.5" font-size="17.5" text-anchor="middle" font-weight="normal" fill="#000" >820</text>
<text x="327.5" y="614.5" font-size="17.5" text-anchor="middle" font-weight="normal" fill="#000" >1230</text>
<text x="380.2" y="614.5" font-size="17.5" text-anchor="middle" font-weight="normal" fill="#000" >1640</text>
<text x="274" y="640.3" font-size="23.1" text-anchor="middle" font-weight="normal" fill="#000" >Latency (ms)</text>
<text transform="translate(128.6,496) rotate(-90)" font-size="23.6" text-anchor="middle">% of decisions</text>
<line x1="496.30" y1="360.00" x2="496.30" y2="588.00" stroke="#d8d8d8" stroke-width="0.7" />
<line x1="484.00" y1="575.50" x2="722.00" y2="575.50" stroke="#d8d8d8" stroke-width="0.7" />
<line x1="484.00" y1="588.80" x2="712.70" y2="359.70" stroke="#828282" stroke-width="1.8" />
<line x1="496.30" y1="360.90" x2="496.30" y2="575.50" stroke="#000" stroke-width="2.2" stroke-dasharray="11 11.6"/>
<line x1="496.10" y1="575.50" x2="722.00" y2="575.50" stroke="#000" stroke-width="2.2" stroke-dasharray="11 11.6"/>
<line x1="483.90" y1="359.60" x2="483.90" y2="589.70" stroke="#000" stroke-width="2" />
<line x1="483.00" y1="588.80" x2="713.80" y2="588.80" stroke="#000" stroke-width="2.2" />
<path d="M514.90,552.10 L523.30,560.50 M514.90,560.50 L523.30,552.10" stroke="#000" stroke-width="2"/>
<path d="M523.00,544.60 L531.40,553.00 M523.00,553.00 L531.40,544.60" stroke="#000" stroke-width="2"/>
<path d="M524.60,546.70 L533.00,555.10 M524.60,555.10 L533.00,546.70" stroke="#000" stroke-width="2"/>
<path d="M526.50,525.90 L534.90,534.30 M526.50,534.30 L534.90,525.90" stroke="#000" stroke-width="2"/>
<path d="M534.60,531.60 L543.00,540.00 M534.60,540.00 L543.00,531.60" stroke="#000" stroke-width="2"/>
<path d="M546.30,521.30 L554.70,529.70 M546.30,529.70 L554.70,521.30" stroke="#000" stroke-width="2"/>
<path d="M548.30,523.80 L556.70,532.20 M548.30,532.20 L556.70,523.80" stroke="#000" stroke-width="2"/>
<path d="M546.30,538.10 L554.70,546.50 M546.30,546.50 L554.70,538.10" stroke="#000" stroke-width="2"/>
<path d="M547.40,540.20 L555.80,548.60 M547.40,548.60 L555.80,540.20" stroke="#000" stroke-width="2"/>
<path d="M559.00,516.90 L567.40,525.30 M559.00,525.30 L567.40,516.90" stroke="#000" stroke-width="2"/>
<path d="M559.30,518.00 L567.70,526.40 M559.30,526.40 L567.70,518.00" stroke="#000" stroke-width="2"/>
<path d="M574.90,505.60 L583.30,514.00 M574.90,514.00 L583.30,505.60" stroke="#000" stroke-width="2"/>
<path d="M576.00,516.40 L584.40,524.80 M576.00,524.80 L584.40,516.40" stroke="#000" stroke-width="2"/>
<path d="M583.60,515.10 L592.00,523.50 M583.60,523.50 L592.00,515.10" stroke="#000" stroke-width="2"/>
<path d="M585.10,494.70 L593.50,503.10 M585.10,503.10 L593.50,494.70" stroke="#000" stroke-width="2"/>
<path d="M586.80,498.40 L595.20,506.80 M586.80,506.80 L595.20,498.40" stroke="#000" stroke-width="2"/>
<path d="M590.10,494.70 L598.50,503.10 M590.10,503.10 L598.50,494.70" stroke="#000" stroke-width="2"/>
<path d="M584.70,514.20 L593.10,522.60 M584.70,522.60 L593.10,514.20" stroke="#000" stroke-width="2"/>
<path d="M592.20,456.60 L600.60,465.00 M592.20,465.00 L600.60,456.60" stroke="#000" stroke-width="2"/>
<path d="M599.80,462.60 L608.20,471.00 M599.80,471.00 L608.20,462.60" stroke="#000" stroke-width="2"/>
<path d="M607.40,494.10 L615.80,502.50 M607.40,502.50 L615.80,494.10" stroke="#000" stroke-width="2"/>
<path d="M624.80,485.40 L633.20,493.80 M624.80,493.80 L633.20,485.40" stroke="#000" stroke-width="2"/>
<path d="M626.20,470.80 L634.60,479.20 M626.20,479.20 L634.60,470.80" stroke="#000" stroke-width="2"/>
<path d="M627.10,472.20 L635.50,480.60 M627.10,480.60 L635.50,472.20" stroke="#000" stroke-width="2"/>
<path d="M635.30,449.50 L643.70,457.90 M635.30,457.90 L643.70,449.50" stroke="#000" stroke-width="2"/>
<path d="M701.40,371.50 L709.80,379.90 M701.40,379.90 L709.80,371.50" stroke="#000" stroke-width="2"/>
<path d="M691.80,380.50 L700.20,388.90 M691.80,388.90 L700.20,380.50" stroke="#000" stroke-width="2"/>
<path d="M691.30,387.30 L699.70,395.70 M691.30,395.70 L699.70,387.30" stroke="#000" stroke-width="2"/>
<path d="M685.40,391.30 L693.80,399.70 M685.40,399.70 L693.80,391.30" stroke="#000" stroke-width="2"/>
<path d="M687.80,384.80 L696.20,393.20 M687.80,393.20 L696.20,384.80" stroke="#000" stroke-width="2"/>
<text x="479.0" y="366.5" font-size="18.2" text-anchor="end" font-weight="normal" fill="#000" >100</text>
<text x="479.0" y="413.2" font-size="18.2" text-anchor="end" font-weight="normal" fill="#000" >80</text>
<text x="479.0" y="459.4" font-size="18.2" text-anchor="end" font-weight="normal" fill="#000" >60</text>
<text x="479.0" y="505.7" font-size="18.2" text-anchor="end" font-weight="normal" fill="#000" >40</text>
<text x="479.0" y="552.6" font-size="18.2" text-anchor="end" font-weight="normal" fill="#000" >20</text>
<text x="479.0" y="595.0" font-size="18.2" text-anchor="end" font-weight="normal" fill="#000" >0</text>
<text x="485.7" y="607.7" font-size="18.2" text-anchor="middle" font-weight="normal" fill="#000" >0</text>
<text x="526.3" y="607.7" font-size="18.2" text-anchor="middle" font-weight="normal" fill="#000" >20</text>
<text x="572.4" y="607.7" font-size="18.2" text-anchor="middle" font-weight="normal" fill="#000" >40</text>
<text x="618.5" y="607.7" font-size="18.2" text-anchor="middle" font-weight="normal" fill="#000" >60</text>
<text x="664.9" y="607.7" font-size="18.2" text-anchor="middle" font-weight="normal" fill="#000" >80</text>
<text x="715.7" y="607.7" font-size="18.2" text-anchor="middle" font-weight="normal" fill="#000" >100</text>
<text x="601.4" y="637.2" font-size="24" text-anchor="middle" font-weight="normal" fill="#000" >vR analytical % correct</text>
<text transform="translate(444.0,476.6) rotate(-90)" font-size="24" text-anchor="middle">vR model % correct</text>
</svg></body></html>
